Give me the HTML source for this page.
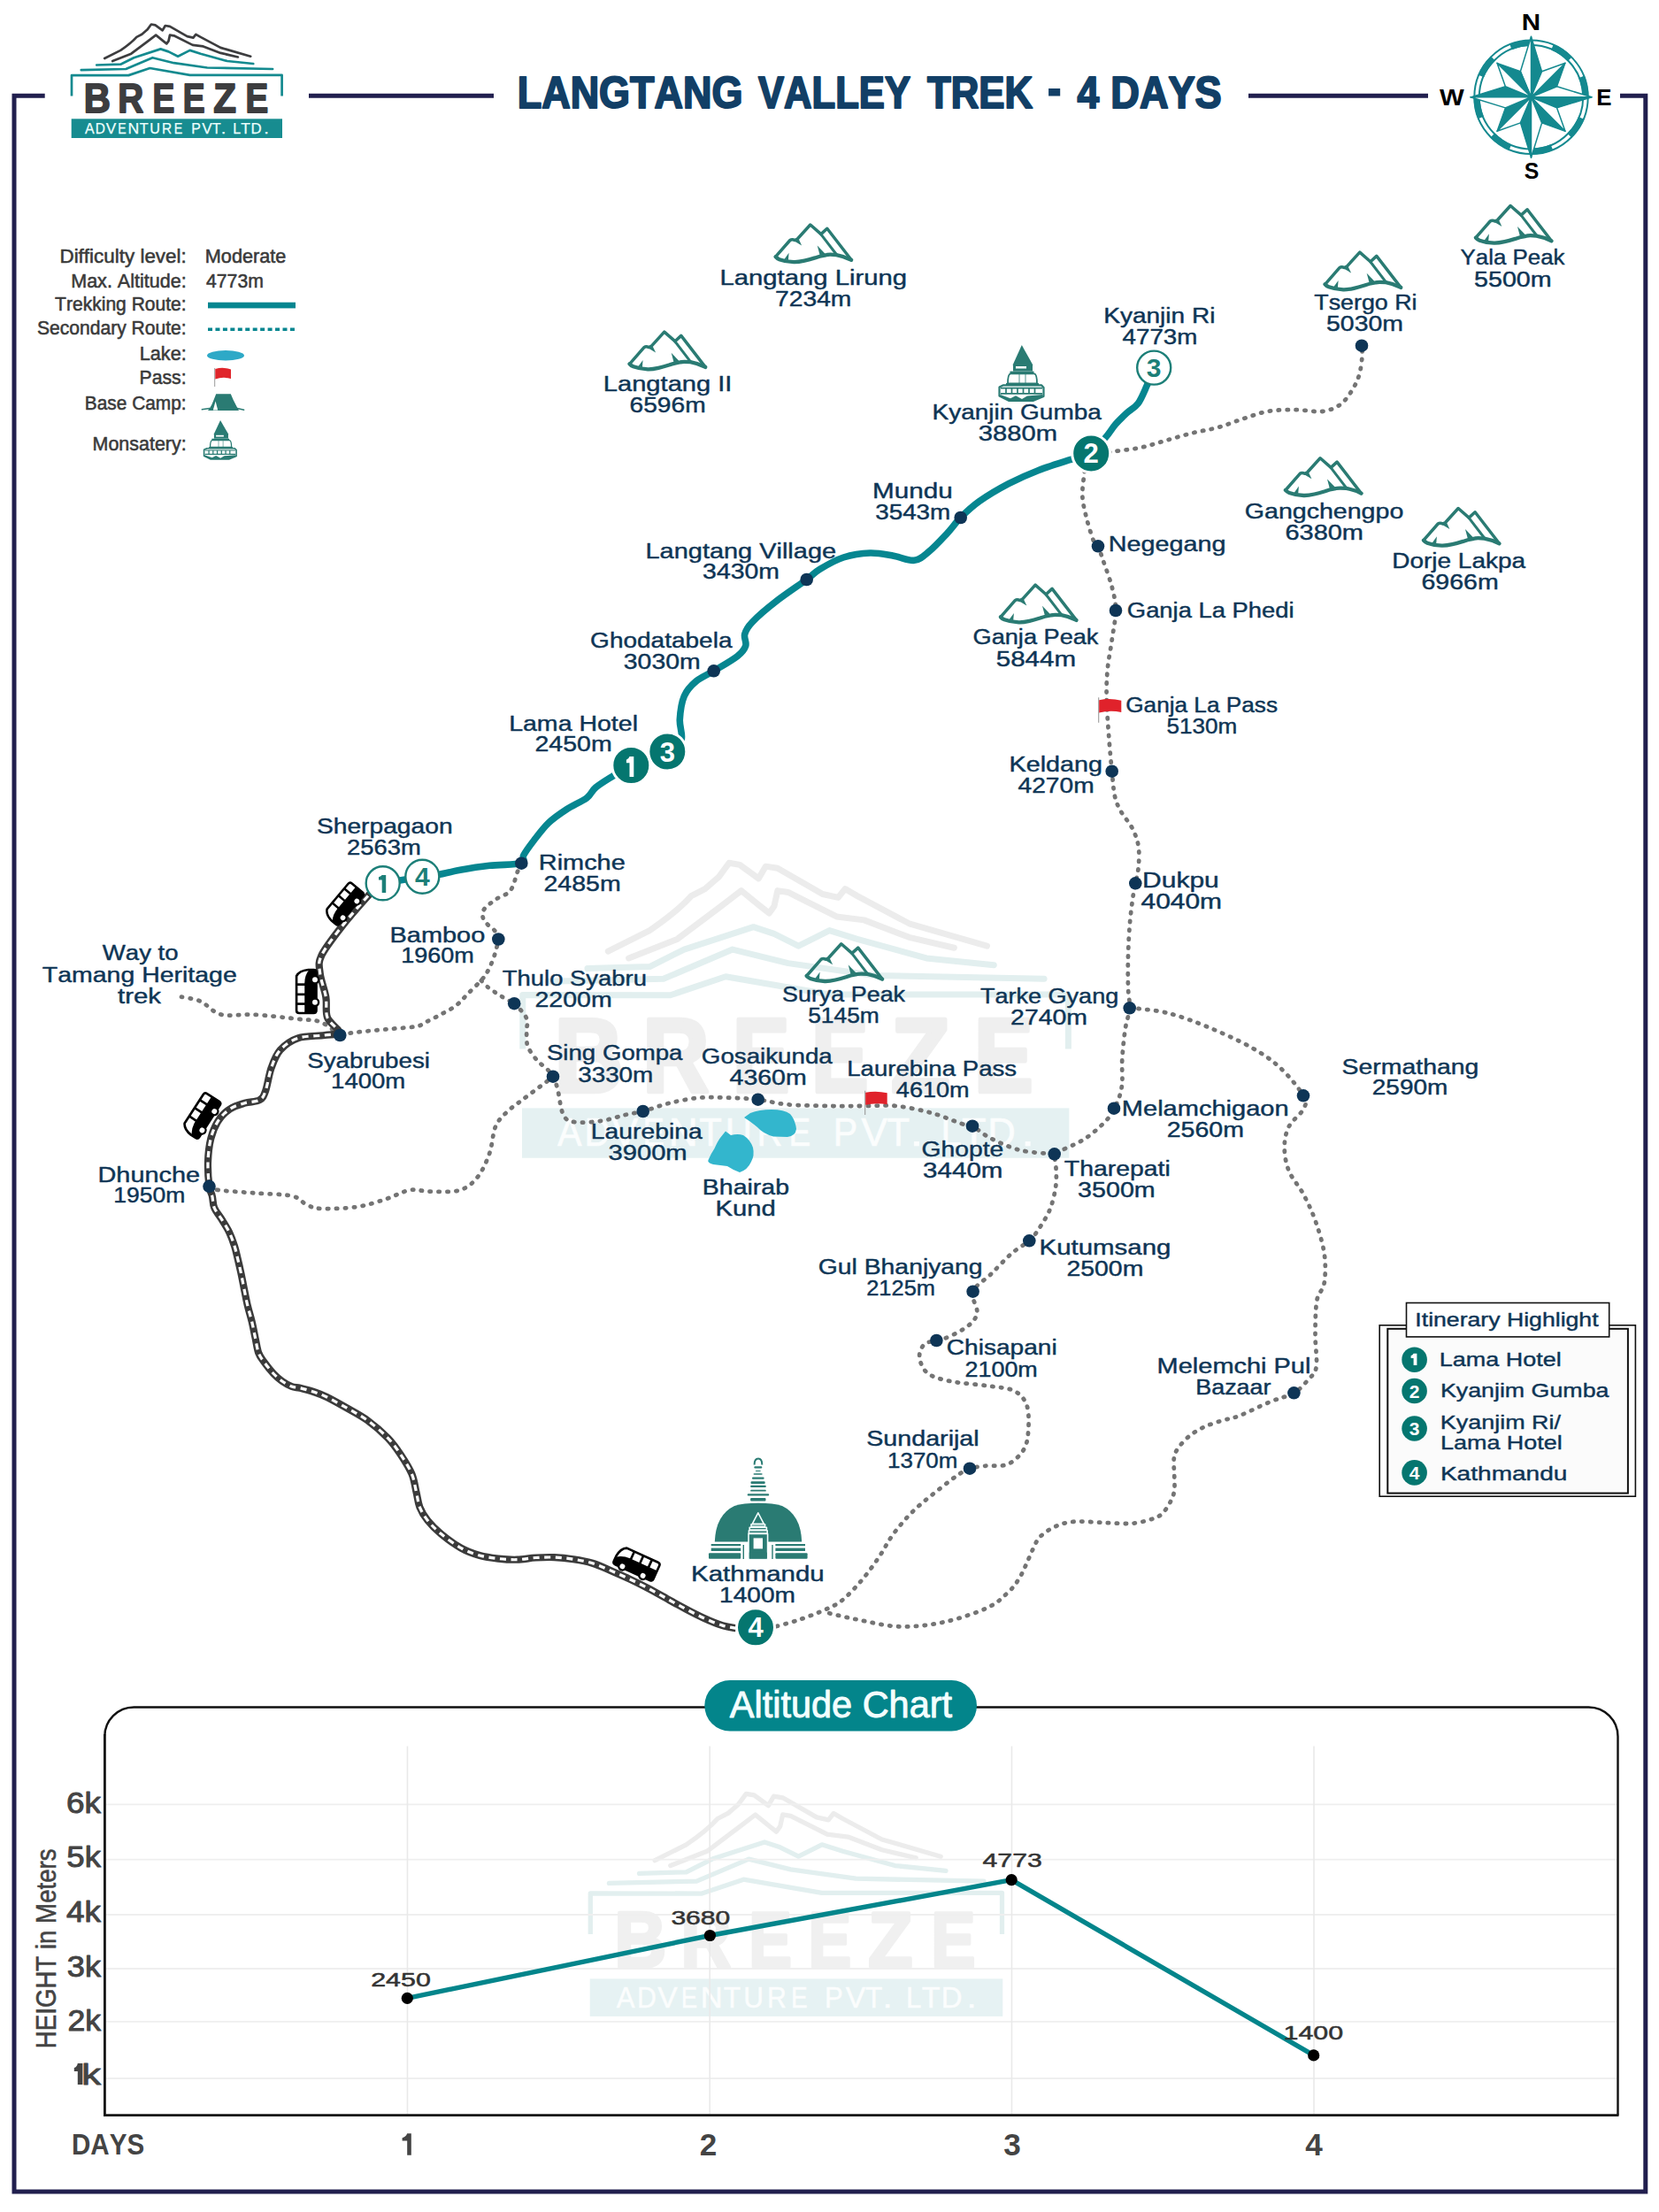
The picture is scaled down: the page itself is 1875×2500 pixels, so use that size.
<!DOCTYPE html><html><head><meta charset="utf-8"><title>Langtang Valley Trek - 4 Days</title><style>html,body{margin:0;padding:0;background:#fff;}svg{display:block;}::-webkit-scrollbar{display:none;}text{font-family:"Liberation Sans",sans-serif;font-kerning:none;}</style></head><body>
<svg width="1875" height="2500" viewBox="0 0 1875 2500">
<rect width="1875" height="2500" fill="#ffffff"/>
<defs>
<g id="mtn" fill="none" stroke="#2a7b73" stroke-linejoin="round" stroke-linecap="round"><path stroke-width="3.5" d="M0.9 38 L17.2 19.3 Q19.6 17.6 22.6 19.3 L25.6 17.8 L40.1 1.8 L52.2 12.4 L59.1 6.1 L86.5 41.6"/><path stroke-width="4.3" d="M86.5 41.6 Q79 37.6 69.6 35.9 Q60 35 57.6 36.2 Q50 37.5 45.5 39.2 Q38 41.5 33.5 42.5 Q26 44.2 21.4 44 Q12 43.6 5.1 41 Q2.5 40 0.9 38"/><path stroke-width="3" d="M52.2 12.7 L69.6 35.3"/></g><g id="mtnf" fill="#2a7b73"><path d="M21.2 19.8 L26.8 17.6 L30.4 25.2 Z"/><path d="M48 25.4 L51.2 37.4 L57.8 35.6 Z"/><path d="M15.9 33.6 L10.4 41.2 L15.2 41.8 Z"/></g>
<g id="bus"><path d="M-17 -11 L21 -11 Q24 -11 24 -8 L24 8 Q24 11 21 11 L-21 11 Q-24 11 -24 8 L-24 2 Q-23 -8 -17 -11 Z" fill="#fff" stroke="#000" stroke-width="2.6" stroke-linejoin="round"/><path d="M-24 3 Q-18 -2 -9 -2 L24 -2 L24 8 Q24 11 21 11 L-21 11 Q-24 11 -24 8 Z" fill="#000"/><rect x="-9" y="-11" width="2.6" height="10" fill="#000"/><rect x="2" y="-11" width="2.6" height="10" fill="#000"/><rect x="12.5" y="-11" width="2.6" height="10" fill="#000"/><circle cx="-13" cy="9.5" r="5.2" fill="#000"/><circle cx="-13" cy="9.5" r="2.9" fill="#fff"/><circle cx="12" cy="9.5" r="5.2" fill="#000"/><circle cx="12" cy="9.5" r="2.9" fill="#fff"/></g>
<g id="monastery"><path d="M26.8 0 L16.5 22.8 L39.5 22.8 Z" fill="#2a7b73"/><rect x="17" y="22" width="22" height="7.5" fill="#2a7b73"/><rect x="20" y="24" width="12" height="2.5" fill="#fff"/><path d="M13.5 29.6 L40.5 29.6 L40.5 32.5 L13.5 32.5 Z" fill="#2a7b73"/><path d="M11 43.5 Q11 33 14 32.3 L41 32.3 Q44 33 44 43.5 Z" fill="#fff" stroke="#2a7b73" stroke-width="1.8"/><rect x="9" y="43" width="37" height="2.6" fill="#2a7b73"/><path d="M1.5 47.5 L6 45.3 L49 45.3 L51.5 48 L51.5 58 L40 62.8 L12 62.8 L1.5 57.5 Z" fill="#fff" stroke="#2a7b73" stroke-width="2.2" stroke-linejoin="round"/><path d="M3 48.6 L50 48.6 M3 54.8 L50 54.8 M9 48 L9 55 M15.5 48 L15.5 55 M22 48 L22 55 M28.5 48 L28.5 55 M35 48 L35 55 M41.5 48 L41.5 55" stroke="#2a7b73" stroke-width="1.7" fill="none"/><path d="M2.5 56 L14 60.2 L20 57.2 L27 61 L33 57.6 L50.5 56 L50.5 58 L40 62.8 L12 62.8 L2 58 Z" fill="#2a7b73"/><path d="M24 33 L24 43 M31 33 L31 43" stroke="#2a7b73" stroke-width="0.8"/></g>
</defs>
<g transform="translate(380.58 903.89) scale(2.595)">
<g fill="none" stroke-linecap="round" stroke-linejoin="round" stroke-width="2.7"><path stroke="#ececec" d="M118.2 66 L136.3 56.9 Q148 49 154.4 41.9 L160.4 38.8 L166.4 33.6 L170.9 27.5 L175.5 28.3 L183.7 34.3 L186.8 29 L192 29.8 L211.6 41.1 L218.4 42.6 L221.4 38.8 L226.7 41.9 L249.3 53.9 L283.2 63.7"/><path stroke="#ececec" d="M127.2 69 L148.3 60.7 L166.4 47.1 L176.2 39.6 L184.5 46.4 L188.3 49.4 L190.5 46.4 L192 39.6 L196.6 40.3 L217.7 50.9 L229.7 52.4 L249.3 59.9 L268.9 64.5"/><path stroke="#e2efef" d="M109.2 73.5 L136.3 72.7 L151.3 65.2 L181.5 55.4 L190.5 58.4 L201.1 63.7 L214.6 56.9 L226.7 60.7 L256.8 69 L286.2 72"/><path stroke="#e2efef" d="M91.8 79.1 L142.3 78 L172.4 65.2 L196.6 71.2 L234.2 76.5 L308.1 78"/><path stroke="#e2efef" stroke-linecap="butt" d="M81 108.5 L81 85 L145.3 85.1 L169.4 77 L214.6 84.8 L318.6 84.8 L318.6 108.5"/></g><text x="94.80" y="127.30" font-family="Liberation Sans" font-weight="bold" font-size="45.64" fill="#efefef" stroke="#efefef" stroke-width="1.80" stroke-linejoin="round" textLength="30.20" lengthAdjust="spacingAndGlyphs" >B</text><text x="133.21" y="127.30" font-family="Liberation Sans" font-weight="bold" font-size="45.64" fill="#efefef" stroke="#efefef" stroke-width="1.80" stroke-linejoin="round" textLength="29.01" lengthAdjust="spacingAndGlyphs" >R</text><text x="172.41" y="127.30" font-family="Liberation Sans" font-weight="bold" font-size="45.64" fill="#efefef" stroke="#efefef" stroke-width="1.80" stroke-linejoin="round" textLength="24.85" lengthAdjust="spacingAndGlyphs" >E</text><text x="206.71" y="127.30" font-family="Liberation Sans" font-weight="bold" font-size="45.64" fill="#efefef" stroke="#efefef" stroke-width="1.80" stroke-linejoin="round" textLength="24.85" lengthAdjust="spacingAndGlyphs" >E</text><text x="241.35" y="127.30" font-family="Liberation Sans" font-weight="bold" font-size="45.64" fill="#efefef" stroke="#efefef" stroke-width="1.80" stroke-linejoin="round" textLength="25.66" lengthAdjust="spacingAndGlyphs" >Z</text><text x="277.62" y="127.30" font-family="Liberation Sans" font-weight="bold" font-size="45.64" fill="#efefef" stroke="#efefef" stroke-width="1.80" stroke-linejoin="round" textLength="25.68" lengthAdjust="spacingAndGlyphs" >E</text><rect x="80.7" y="134.3" width="238.3" height="21.7" fill="#e5f1f2"/><text x="96.09" y="150.90" font-family="Liberation Sans" font-weight="normal" font-size="16.97" fill="#fbfdfd" stroke="#fbfdfd" stroke-width="0.25" stroke-linejoin="round" textLength="10.61" lengthAdjust="spacingAndGlyphs" >A</text><text x="107.86" y="150.90" font-family="Liberation Sans" font-weight="normal" font-size="16.97" fill="#fbfdfd" stroke="#fbfdfd" stroke-width="0.25" stroke-linejoin="round" textLength="11.16" lengthAdjust="spacingAndGlyphs" >D</text><text x="119.85" y="150.90" font-family="Liberation Sans" font-weight="normal" font-size="16.97" fill="#fbfdfd" stroke="#fbfdfd" stroke-width="0.25" stroke-linejoin="round" textLength="11.50" lengthAdjust="spacingAndGlyphs" >V</text><text x="133.27" y="150.90" font-family="Liberation Sans" font-weight="normal" font-size="16.97" fill="#fbfdfd" stroke="#fbfdfd" stroke-width="0.25" stroke-linejoin="round" textLength="9.41" lengthAdjust="spacingAndGlyphs" >E</text><text x="144.58" y="150.90" font-family="Liberation Sans" font-weight="normal" font-size="16.97" fill="#fbfdfd" stroke="#fbfdfd" stroke-width="0.25" stroke-linejoin="round" textLength="12.73" lengthAdjust="spacingAndGlyphs" >N</text><text x="157.86" y="150.90" font-family="Liberation Sans" font-weight="normal" font-size="16.97" fill="#fbfdfd" stroke="#fbfdfd" stroke-width="0.25" stroke-linejoin="round" textLength="9.88" lengthAdjust="spacingAndGlyphs" >T</text><text x="169.28" y="150.90" font-family="Liberation Sans" font-weight="normal" font-size="16.97" fill="#fbfdfd" stroke="#fbfdfd" stroke-width="0.25" stroke-linejoin="round" textLength="11.64" lengthAdjust="spacingAndGlyphs" >U</text><text x="183.06" y="150.90" font-family="Liberation Sans" font-weight="normal" font-size="16.97" fill="#fbfdfd" stroke="#fbfdfd" stroke-width="0.25" stroke-linejoin="round" textLength="11.13" lengthAdjust="spacingAndGlyphs" >R</text><text x="196.85" y="150.90" font-family="Liberation Sans" font-weight="normal" font-size="16.97" fill="#fbfdfd" stroke="#fbfdfd" stroke-width="0.25" stroke-linejoin="round" textLength="9.54" lengthAdjust="spacingAndGlyphs" >E</text><text x="216.22" y="150.90" font-family="Liberation Sans" font-weight="normal" font-size="16.97" fill="#fbfdfd" stroke="#fbfdfd" stroke-width="0.25" stroke-linejoin="round" textLength="10.59" lengthAdjust="spacingAndGlyphs" >P</text><text x="228.35" y="150.90" font-family="Liberation Sans" font-weight="normal" font-size="16.97" fill="#fbfdfd" stroke="#fbfdfd" stroke-width="0.25" stroke-linejoin="round" textLength="11.50" lengthAdjust="spacingAndGlyphs" >V</text><text x="239.66" y="150.90" font-family="Liberation Sans" font-weight="normal" font-size="16.97" fill="#fbfdfd" stroke="#fbfdfd" stroke-width="0.25" stroke-linejoin="round" textLength="9.88" lengthAdjust="spacingAndGlyphs" >T</text><text x="249.66" y="150.90" font-family="Liberation Sans" font-weight="normal" font-size="16.97" fill="#fbfdfd" stroke="#fbfdfd" stroke-width="0.25" stroke-linejoin="round" textLength="5.69" lengthAdjust="spacingAndGlyphs" >.</text><text x="263.21" y="150.90" font-family="Liberation Sans" font-weight="normal" font-size="16.97" fill="#fbfdfd" stroke="#fbfdfd" stroke-width="0.25" stroke-linejoin="round" textLength="8.89" lengthAdjust="spacingAndGlyphs" >L</text><text x="272.23" y="150.90" font-family="Liberation Sans" font-weight="normal" font-size="16.97" fill="#fbfdfd" stroke="#fbfdfd" stroke-width="0.25" stroke-linejoin="round" textLength="10.64" lengthAdjust="spacingAndGlyphs" >T</text><text x="283.45" y="150.90" font-family="Liberation Sans" font-weight="normal" font-size="16.97" fill="#fbfdfd" stroke="#fbfdfd" stroke-width="0.25" stroke-linejoin="round" textLength="12.13" lengthAdjust="spacingAndGlyphs" >D</text><text x="298.15" y="150.90" font-family="Liberation Sans" font-weight="normal" font-size="16.97" fill="#fbfdfd" stroke="#fbfdfd" stroke-width="0.25" stroke-linejoin="round" textLength="5.69" lengthAdjust="spacingAndGlyphs" >.</text>
</g>
<g transform="translate(508.69 1973.44) scale(1.958)">
<g fill="none" stroke-linecap="round" stroke-linejoin="round" stroke-width="2.7"><path stroke="#ececec" d="M118.2 66 L136.3 56.9 Q148 49 154.4 41.9 L160.4 38.8 L166.4 33.6 L170.9 27.5 L175.5 28.3 L183.7 34.3 L186.8 29 L192 29.8 L211.6 41.1 L218.4 42.6 L221.4 38.8 L226.7 41.9 L249.3 53.9 L283.2 63.7"/><path stroke="#ececec" d="M127.2 69 L148.3 60.7 L166.4 47.1 L176.2 39.6 L184.5 46.4 L188.3 49.4 L190.5 46.4 L192 39.6 L196.6 40.3 L217.7 50.9 L229.7 52.4 L249.3 59.9 L268.9 64.5"/><path stroke="#e2efef" d="M109.2 73.5 L136.3 72.7 L151.3 65.2 L181.5 55.4 L190.5 58.4 L201.1 63.7 L214.6 56.9 L226.7 60.7 L256.8 69 L286.2 72"/><path stroke="#e2efef" d="M91.8 79.1 L142.3 78 L172.4 65.2 L196.6 71.2 L234.2 76.5 L308.1 78"/><path stroke="#e2efef" stroke-linecap="butt" d="M81 108.5 L81 85 L145.3 85.1 L169.4 77 L214.6 84.8 L318.6 84.8 L318.6 108.5"/></g><text x="94.80" y="127.30" font-family="Liberation Sans" font-weight="bold" font-size="45.64" fill="#f0f0f0" stroke="#f0f0f0" stroke-width="1.80" stroke-linejoin="round" textLength="30.20" lengthAdjust="spacingAndGlyphs" >B</text><text x="133.21" y="127.30" font-family="Liberation Sans" font-weight="bold" font-size="45.64" fill="#f0f0f0" stroke="#f0f0f0" stroke-width="1.80" stroke-linejoin="round" textLength="29.01" lengthAdjust="spacingAndGlyphs" >R</text><text x="172.41" y="127.30" font-family="Liberation Sans" font-weight="bold" font-size="45.64" fill="#f0f0f0" stroke="#f0f0f0" stroke-width="1.80" stroke-linejoin="round" textLength="24.85" lengthAdjust="spacingAndGlyphs" >E</text><text x="206.71" y="127.30" font-family="Liberation Sans" font-weight="bold" font-size="45.64" fill="#f0f0f0" stroke="#f0f0f0" stroke-width="1.80" stroke-linejoin="round" textLength="24.85" lengthAdjust="spacingAndGlyphs" >E</text><text x="241.35" y="127.30" font-family="Liberation Sans" font-weight="bold" font-size="45.64" fill="#f0f0f0" stroke="#f0f0f0" stroke-width="1.80" stroke-linejoin="round" textLength="25.66" lengthAdjust="spacingAndGlyphs" >Z</text><text x="277.62" y="127.30" font-family="Liberation Sans" font-weight="bold" font-size="45.64" fill="#f0f0f0" stroke="#f0f0f0" stroke-width="1.80" stroke-linejoin="round" textLength="25.68" lengthAdjust="spacingAndGlyphs" >E</text><rect x="80.7" y="134.3" width="238.3" height="21.7" fill="#e6f2f3"/><text x="96.09" y="150.90" font-family="Liberation Sans" font-weight="normal" font-size="16.97" fill="#fbfdfd" stroke="#fbfdfd" stroke-width="0.25" stroke-linejoin="round" textLength="10.61" lengthAdjust="spacingAndGlyphs" >A</text><text x="107.86" y="150.90" font-family="Liberation Sans" font-weight="normal" font-size="16.97" fill="#fbfdfd" stroke="#fbfdfd" stroke-width="0.25" stroke-linejoin="round" textLength="11.16" lengthAdjust="spacingAndGlyphs" >D</text><text x="119.85" y="150.90" font-family="Liberation Sans" font-weight="normal" font-size="16.97" fill="#fbfdfd" stroke="#fbfdfd" stroke-width="0.25" stroke-linejoin="round" textLength="11.50" lengthAdjust="spacingAndGlyphs" >V</text><text x="133.27" y="150.90" font-family="Liberation Sans" font-weight="normal" font-size="16.97" fill="#fbfdfd" stroke="#fbfdfd" stroke-width="0.25" stroke-linejoin="round" textLength="9.41" lengthAdjust="spacingAndGlyphs" >E</text><text x="144.58" y="150.90" font-family="Liberation Sans" font-weight="normal" font-size="16.97" fill="#fbfdfd" stroke="#fbfdfd" stroke-width="0.25" stroke-linejoin="round" textLength="12.73" lengthAdjust="spacingAndGlyphs" >N</text><text x="157.86" y="150.90" font-family="Liberation Sans" font-weight="normal" font-size="16.97" fill="#fbfdfd" stroke="#fbfdfd" stroke-width="0.25" stroke-linejoin="round" textLength="9.88" lengthAdjust="spacingAndGlyphs" >T</text><text x="169.28" y="150.90" font-family="Liberation Sans" font-weight="normal" font-size="16.97" fill="#fbfdfd" stroke="#fbfdfd" stroke-width="0.25" stroke-linejoin="round" textLength="11.64" lengthAdjust="spacingAndGlyphs" >U</text><text x="183.06" y="150.90" font-family="Liberation Sans" font-weight="normal" font-size="16.97" fill="#fbfdfd" stroke="#fbfdfd" stroke-width="0.25" stroke-linejoin="round" textLength="11.13" lengthAdjust="spacingAndGlyphs" >R</text><text x="196.85" y="150.90" font-family="Liberation Sans" font-weight="normal" font-size="16.97" fill="#fbfdfd" stroke="#fbfdfd" stroke-width="0.25" stroke-linejoin="round" textLength="9.54" lengthAdjust="spacingAndGlyphs" >E</text><text x="216.22" y="150.90" font-family="Liberation Sans" font-weight="normal" font-size="16.97" fill="#fbfdfd" stroke="#fbfdfd" stroke-width="0.25" stroke-linejoin="round" textLength="10.59" lengthAdjust="spacingAndGlyphs" >P</text><text x="228.35" y="150.90" font-family="Liberation Sans" font-weight="normal" font-size="16.97" fill="#fbfdfd" stroke="#fbfdfd" stroke-width="0.25" stroke-linejoin="round" textLength="11.50" lengthAdjust="spacingAndGlyphs" >V</text><text x="239.66" y="150.90" font-family="Liberation Sans" font-weight="normal" font-size="16.97" fill="#fbfdfd" stroke="#fbfdfd" stroke-width="0.25" stroke-linejoin="round" textLength="9.88" lengthAdjust="spacingAndGlyphs" >T</text><text x="249.66" y="150.90" font-family="Liberation Sans" font-weight="normal" font-size="16.97" fill="#fbfdfd" stroke="#fbfdfd" stroke-width="0.25" stroke-linejoin="round" textLength="5.69" lengthAdjust="spacingAndGlyphs" >.</text><text x="263.21" y="150.90" font-family="Liberation Sans" font-weight="normal" font-size="16.97" fill="#fbfdfd" stroke="#fbfdfd" stroke-width="0.25" stroke-linejoin="round" textLength="8.89" lengthAdjust="spacingAndGlyphs" >L</text><text x="272.23" y="150.90" font-family="Liberation Sans" font-weight="normal" font-size="16.97" fill="#fbfdfd" stroke="#fbfdfd" stroke-width="0.25" stroke-linejoin="round" textLength="10.64" lengthAdjust="spacingAndGlyphs" >T</text><text x="283.45" y="150.90" font-family="Liberation Sans" font-weight="normal" font-size="16.97" fill="#fbfdfd" stroke="#fbfdfd" stroke-width="0.25" stroke-linejoin="round" textLength="12.13" lengthAdjust="spacingAndGlyphs" >D</text><text x="298.15" y="150.90" font-family="Liberation Sans" font-weight="normal" font-size="16.97" fill="#fbfdfd" stroke="#fbfdfd" stroke-width="0.25" stroke-linejoin="round" textLength="5.69" lengthAdjust="spacingAndGlyphs" >.</text>
</g>
<g fill="none" stroke="#211f4e" stroke-width="5" stroke-linecap="butt">
<path d="M50.7 108.2 L16 108.2 L16 2477 L1859.8 2477 L1859.8 108.2 L1831 108.2"/>
<path d="M349 108.2 L558 108.2"/><path d="M1411 108.2 L1614 108.2"/>
</g>
<g fill="none" stroke-linecap="round" stroke-linejoin="round" stroke-width="2.7"><path stroke="#3d3d3f" d="M118.2 66 L136.3 56.9 Q148 49 154.4 41.9 L160.4 38.8 L166.4 33.6 L170.9 27.5 L175.5 28.3 L183.7 34.3 L186.8 29 L192 29.8 L211.6 41.1 L218.4 42.6 L221.4 38.8 L226.7 41.9 L249.3 53.9 L283.2 63.7"/><path stroke="#3d3d3f" d="M127.2 69 L148.3 60.7 L166.4 47.1 L176.2 39.6 L184.5 46.4 L188.3 49.4 L190.5 46.4 L192 39.6 L196.6 40.3 L217.7 50.9 L229.7 52.4 L249.3 59.9 L268.9 64.5"/><path stroke="#148a8f" d="M109.2 73.5 L136.3 72.7 L151.3 65.2 L181.5 55.4 L190.5 58.4 L201.1 63.7 L214.6 56.9 L226.7 60.7 L256.8 69 L286.2 72"/><path stroke="#148a8f" d="M91.8 79.1 L142.3 78 L172.4 65.2 L196.6 71.2 L234.2 76.5 L308.1 78"/><path stroke="#148a8f" stroke-linecap="butt" d="M81 108.5 L81 85 L145.3 85.1 L169.4 77 L214.6 84.8 L318.6 84.8 L318.6 108.5"/></g><text x="94.80" y="127.30" font-family="Liberation Sans" font-weight="bold" font-size="45.64" fill="#3d3d3f" stroke="#3d3d3f" stroke-width="1.80" stroke-linejoin="round" textLength="30.20" lengthAdjust="spacingAndGlyphs" >B</text><text x="133.21" y="127.30" font-family="Liberation Sans" font-weight="bold" font-size="45.64" fill="#3d3d3f" stroke="#3d3d3f" stroke-width="1.80" stroke-linejoin="round" textLength="29.01" lengthAdjust="spacingAndGlyphs" >R</text><text x="172.41" y="127.30" font-family="Liberation Sans" font-weight="bold" font-size="45.64" fill="#3d3d3f" stroke="#3d3d3f" stroke-width="1.80" stroke-linejoin="round" textLength="24.85" lengthAdjust="spacingAndGlyphs" >E</text><text x="206.71" y="127.30" font-family="Liberation Sans" font-weight="bold" font-size="45.64" fill="#3d3d3f" stroke="#3d3d3f" stroke-width="1.80" stroke-linejoin="round" textLength="24.85" lengthAdjust="spacingAndGlyphs" >E</text><text x="241.35" y="127.30" font-family="Liberation Sans" font-weight="bold" font-size="45.64" fill="#3d3d3f" stroke="#3d3d3f" stroke-width="1.80" stroke-linejoin="round" textLength="25.66" lengthAdjust="spacingAndGlyphs" >Z</text><text x="277.62" y="127.30" font-family="Liberation Sans" font-weight="bold" font-size="45.64" fill="#3d3d3f" stroke="#3d3d3f" stroke-width="1.80" stroke-linejoin="round" textLength="25.68" lengthAdjust="spacingAndGlyphs" >E</text><rect x="80.7" y="134.3" width="238.3" height="21.7" fill="#178c90"/><text x="96.09" y="150.90" font-family="Liberation Sans" font-weight="normal" font-size="16.97" fill="#eefffd" stroke="#eefffd" stroke-width="0.25" stroke-linejoin="round" textLength="10.61" lengthAdjust="spacingAndGlyphs" >A</text><text x="107.86" y="150.90" font-family="Liberation Sans" font-weight="normal" font-size="16.97" fill="#eefffd" stroke="#eefffd" stroke-width="0.25" stroke-linejoin="round" textLength="11.16" lengthAdjust="spacingAndGlyphs" >D</text><text x="119.85" y="150.90" font-family="Liberation Sans" font-weight="normal" font-size="16.97" fill="#eefffd" stroke="#eefffd" stroke-width="0.25" stroke-linejoin="round" textLength="11.50" lengthAdjust="spacingAndGlyphs" >V</text><text x="133.27" y="150.90" font-family="Liberation Sans" font-weight="normal" font-size="16.97" fill="#eefffd" stroke="#eefffd" stroke-width="0.25" stroke-linejoin="round" textLength="9.41" lengthAdjust="spacingAndGlyphs" >E</text><text x="144.58" y="150.90" font-family="Liberation Sans" font-weight="normal" font-size="16.97" fill="#eefffd" stroke="#eefffd" stroke-width="0.25" stroke-linejoin="round" textLength="12.73" lengthAdjust="spacingAndGlyphs" >N</text><text x="157.86" y="150.90" font-family="Liberation Sans" font-weight="normal" font-size="16.97" fill="#eefffd" stroke="#eefffd" stroke-width="0.25" stroke-linejoin="round" textLength="9.88" lengthAdjust="spacingAndGlyphs" >T</text><text x="169.28" y="150.90" font-family="Liberation Sans" font-weight="normal" font-size="16.97" fill="#eefffd" stroke="#eefffd" stroke-width="0.25" stroke-linejoin="round" textLength="11.64" lengthAdjust="spacingAndGlyphs" >U</text><text x="183.06" y="150.90" font-family="Liberation Sans" font-weight="normal" font-size="16.97" fill="#eefffd" stroke="#eefffd" stroke-width="0.25" stroke-linejoin="round" textLength="11.13" lengthAdjust="spacingAndGlyphs" >R</text><text x="196.85" y="150.90" font-family="Liberation Sans" font-weight="normal" font-size="16.97" fill="#eefffd" stroke="#eefffd" stroke-width="0.25" stroke-linejoin="round" textLength="9.54" lengthAdjust="spacingAndGlyphs" >E</text><text x="216.22" y="150.90" font-family="Liberation Sans" font-weight="normal" font-size="16.97" fill="#eefffd" stroke="#eefffd" stroke-width="0.25" stroke-linejoin="round" textLength="10.59" lengthAdjust="spacingAndGlyphs" >P</text><text x="228.35" y="150.90" font-family="Liberation Sans" font-weight="normal" font-size="16.97" fill="#eefffd" stroke="#eefffd" stroke-width="0.25" stroke-linejoin="round" textLength="11.50" lengthAdjust="spacingAndGlyphs" >V</text><text x="239.66" y="150.90" font-family="Liberation Sans" font-weight="normal" font-size="16.97" fill="#eefffd" stroke="#eefffd" stroke-width="0.25" stroke-linejoin="round" textLength="9.88" lengthAdjust="spacingAndGlyphs" >T</text><text x="249.66" y="150.90" font-family="Liberation Sans" font-weight="normal" font-size="16.97" fill="#eefffd" stroke="#eefffd" stroke-width="0.25" stroke-linejoin="round" textLength="5.69" lengthAdjust="spacingAndGlyphs" >.</text><text x="263.21" y="150.90" font-family="Liberation Sans" font-weight="normal" font-size="16.97" fill="#eefffd" stroke="#eefffd" stroke-width="0.25" stroke-linejoin="round" textLength="8.89" lengthAdjust="spacingAndGlyphs" >L</text><text x="272.23" y="150.90" font-family="Liberation Sans" font-weight="normal" font-size="16.97" fill="#eefffd" stroke="#eefffd" stroke-width="0.25" stroke-linejoin="round" textLength="10.64" lengthAdjust="spacingAndGlyphs" >T</text><text x="283.45" y="150.90" font-family="Liberation Sans" font-weight="normal" font-size="16.97" fill="#eefffd" stroke="#eefffd" stroke-width="0.25" stroke-linejoin="round" textLength="12.13" lengthAdjust="spacingAndGlyphs" >D</text><text x="298.15" y="150.90" font-family="Liberation Sans" font-weight="normal" font-size="16.97" fill="#eefffd" stroke="#eefffd" stroke-width="0.25" stroke-linejoin="round" textLength="5.69" lengthAdjust="spacingAndGlyphs" >.</text>
<text x="584.69" y="122.20" font-family="Liberation Sans" font-weight="bold" font-size="49.13" fill="#123f66" stroke="#123f66" stroke-width="2.00" stroke-linejoin="round" textLength="254.80" lengthAdjust="spacingAndGlyphs" >LANGTANG</text>
<text x="857.00" y="122.20" font-family="Liberation Sans" font-weight="bold" font-size="49.13" fill="#123f66" stroke="#123f66" stroke-width="2.00" stroke-linejoin="round" textLength="172.00" lengthAdjust="spacingAndGlyphs" >VALLEY</text>
<text x="1047.91" y="122.20" font-family="Liberation Sans" font-weight="bold" font-size="49.13" fill="#123f66" stroke="#123f66" stroke-width="2.00" stroke-linejoin="round" textLength="119.10" lengthAdjust="spacingAndGlyphs" >TREK</text>
<text x="1217.53" y="122.20" font-family="Liberation Sans" font-weight="bold" font-size="49.13" fill="#123f66" stroke="#123f66" stroke-width="2.00" stroke-linejoin="round" textLength="24.71" lengthAdjust="spacingAndGlyphs" >4</text>
<text x="1255.28" y="122.20" font-family="Liberation Sans" font-weight="bold" font-size="49.13" fill="#123f66" stroke="#123f66" stroke-width="2.00" stroke-linejoin="round" textLength="125.49" lengthAdjust="spacingAndGlyphs" >DAYS</text>
<rect x="1185.1" y="100" width="13.1" height="8.5" fill="#123f66"/>
<g>
<circle cx="1730.5" cy="109.8" r="64.2" fill="none" stroke="#14898f" stroke-width="2.0"/>
<circle cx="1730.5" cy="109.8" r="58.7" fill="none" stroke="#14898f" stroke-width="2.0"/>
<circle cx="1730.5" cy="109.8" r="61.4" fill="none" stroke="#14898f" stroke-width="7" stroke-dasharray="24.112 24.112" stroke-dashoffset="24.112"/>
<path d="M1730.5 109.8 L1730.5 41.3 L1742.6 80.7 Z" fill="#14898f" stroke="#14898f" stroke-width="1.3" stroke-linejoin="round"/>
<path d="M1730.5 109.8 L1730.5 41.3 L1718.4 80.7 Z" fill="#fff" stroke="#14898f" stroke-width="1.5" stroke-linejoin="round"/>
<path d="M1730.5 109.8 L1769.0 71.3 L1759.6 97.7 Z" fill="#14898f" stroke="#14898f" stroke-width="1.3" stroke-linejoin="round"/>
<path d="M1730.5 109.8 L1769.0 71.3 L1742.6 80.7 Z" fill="#fff" stroke="#14898f" stroke-width="1.5" stroke-linejoin="round"/>
<path d="M1730.5 109.8 L1799.0 109.8 L1759.6 121.9 Z" fill="#14898f" stroke="#14898f" stroke-width="1.3" stroke-linejoin="round"/>
<path d="M1730.5 109.8 L1799.0 109.8 L1759.6 97.7 Z" fill="#fff" stroke="#14898f" stroke-width="1.5" stroke-linejoin="round"/>
<path d="M1730.5 109.8 L1769.0 148.3 L1742.6 138.9 Z" fill="#14898f" stroke="#14898f" stroke-width="1.3" stroke-linejoin="round"/>
<path d="M1730.5 109.8 L1769.0 148.3 L1759.6 121.9 Z" fill="#fff" stroke="#14898f" stroke-width="1.5" stroke-linejoin="round"/>
<path d="M1730.5 109.8 L1730.5 178.3 L1718.4 138.9 Z" fill="#14898f" stroke="#14898f" stroke-width="1.3" stroke-linejoin="round"/>
<path d="M1730.5 109.8 L1730.5 178.3 L1742.6 138.9 Z" fill="#fff" stroke="#14898f" stroke-width="1.5" stroke-linejoin="round"/>
<path d="M1730.5 109.8 L1692.0 148.3 L1701.4 121.9 Z" fill="#14898f" stroke="#14898f" stroke-width="1.3" stroke-linejoin="round"/>
<path d="M1730.5 109.8 L1692.0 148.3 L1718.4 138.9 Z" fill="#fff" stroke="#14898f" stroke-width="1.5" stroke-linejoin="round"/>
<path d="M1730.5 109.8 L1662.0 109.8 L1701.4 97.7 Z" fill="#14898f" stroke="#14898f" stroke-width="1.3" stroke-linejoin="round"/>
<path d="M1730.5 109.8 L1662.0 109.8 L1701.4 121.9 Z" fill="#fff" stroke="#14898f" stroke-width="1.5" stroke-linejoin="round"/>
<path d="M1730.5 109.8 L1692.0 71.3 L1718.4 80.7 Z" fill="#14898f" stroke="#14898f" stroke-width="1.3" stroke-linejoin="round"/>
<path d="M1730.5 109.8 L1692.0 71.3 L1701.4 97.7 Z" fill="#fff" stroke="#14898f" stroke-width="1.5" stroke-linejoin="round"/>
</g>
<text x="1719.82" y="34.00" font-family="Liberation Sans" font-weight="bold" font-size="25.29" fill="#000" textLength="21.37" lengthAdjust="spacingAndGlyphs" >N</text>
<text x="1626.97" y="118.50" font-family="Liberation Sans" font-weight="bold" font-size="25.87" fill="#000" textLength="27.76" lengthAdjust="spacingAndGlyphs" >W</text>
<text x="1804.27" y="118.50" font-family="Liberation Sans" font-weight="bold" font-size="25.44" fill="#000" textLength="17.24" lengthAdjust="spacingAndGlyphs" >E</text>
<text x="1722.78" y="202.20" font-family="Liberation Sans" font-weight="bold" font-size="25.29" fill="#000" textLength="16.59" lengthAdjust="spacingAndGlyphs" >S</text>
<text x="67.44" y="297.30" font-family="Liberation Sans" font-weight="normal" font-size="21.98" fill="#3a3a3a" stroke="#3a3a3a" stroke-width="0.55" stroke-linejoin="round" textLength="143.34" lengthAdjust="spacingAndGlyphs" >Difficulty level:</text>
<text x="80.21" y="325.00" font-family="Liberation Sans" font-weight="normal" font-size="21.98" fill="#3a3a3a" stroke="#3a3a3a" stroke-width="0.55" stroke-linejoin="round" textLength="130.48" lengthAdjust="spacingAndGlyphs" >Max. Altitude:</text>
<text x="62.10" y="350.70" font-family="Liberation Sans" font-weight="normal" font-size="21.98" fill="#3a3a3a" stroke="#3a3a3a" stroke-width="0.55" stroke-linejoin="round" textLength="148.54" lengthAdjust="spacingAndGlyphs" >Trekking Route:</text>
<text x="42.02" y="378.30" font-family="Liberation Sans" font-weight="normal" font-size="21.98" fill="#3a3a3a" stroke="#3a3a3a" stroke-width="0.55" stroke-linejoin="round" textLength="168.63" lengthAdjust="spacingAndGlyphs" >Secondary Route:</text>
<text x="157.80" y="407.00" font-family="Liberation Sans" font-weight="normal" font-size="21.98" fill="#3a3a3a" stroke="#3a3a3a" stroke-width="0.55" stroke-linejoin="round" textLength="52.90" lengthAdjust="spacingAndGlyphs" >Lake:</text>
<text x="157.53" y="433.70" font-family="Liberation Sans" font-weight="normal" font-size="21.98" fill="#3a3a3a" stroke="#3a3a3a" stroke-width="0.55" stroke-linejoin="round" textLength="53.13" lengthAdjust="spacingAndGlyphs" >Pass:</text>
<text x="95.86" y="463.00" font-family="Liberation Sans" font-weight="normal" font-size="21.98" fill="#3a3a3a" stroke="#3a3a3a" stroke-width="0.55" stroke-linejoin="round" textLength="114.77" lengthAdjust="spacingAndGlyphs" >Base Camp:</text>
<text x="104.51" y="509.30" font-family="Liberation Sans" font-weight="normal" font-size="21.98" fill="#3a3a3a" stroke="#3a3a3a" stroke-width="0.55" stroke-linejoin="round" textLength="106.17" lengthAdjust="spacingAndGlyphs" >Monsatery:</text>
<text x="231.80" y="297.30" font-family="Liberation Sans" font-weight="normal" font-size="21.98" fill="#3a3a3a" stroke="#3a3a3a" stroke-width="0.55" stroke-linejoin="round" textLength="91.59" lengthAdjust="spacingAndGlyphs" >Moderate</text>
<text x="233.09" y="325.00" font-family="Liberation Sans" font-weight="normal" font-size="21.98" fill="#3a3a3a" stroke="#3a3a3a" stroke-width="0.55" stroke-linejoin="round" textLength="64.73" lengthAdjust="spacingAndGlyphs" >4773m</text>
<rect x="235" y="341.7" width="99" height="6.7" fill="#068690"/>
<path d="M235 372.3 L333 372.3" stroke="#068690" stroke-width="3.6" stroke-dasharray="5 3.45"/>
<ellipse cx="255" cy="401.7" rx="21" ry="5.7" fill="#2ea9c7"/>
<path d="M242.7 416 L242.7 437" stroke="#9a9a9a" stroke-width="1"/>
<path d="M243.3 417 Q252 414.5 261 417.5 L261 428 Q252 425.5 243.3 428.5 Z" fill="#e0252b"/>
<path d="M244.2 445.2 L260.8 445.2 Q263.5 452 266.5 457.5 Q268.5 461.5 270 464 L235 464 Q237.5 461 239.5 457 Q242 451 244.2 445.2 Z" fill="#2a7b73"/>
<path d="M237 461.5 L228.3 462.8 M268 461.5 L275.7 463.2" stroke="#2a7b73" stroke-width="1.4" stroke-linecap="round"/>
<path d="M240.8 463.6 L243.6 453.6 L246.2 463.6 Z" fill="#ffffff"/>
<use href="#monastery" transform="translate(229.5 475) scale(0.73 0.70)"/>
<g fill="none" stroke="#747474" stroke-width="4.8" stroke-linecap="round" stroke-dasharray="1.3 8.6">
<path d="M1253.0 511.0 C1254.0 510.9 1252.9 511.1 1259.0 510.2 C1265.1 509.3 1279.8 507.8 1289.8 505.7 C1299.8 503.6 1309.1 500.2 1318.7 497.5 C1328.3 494.8 1337.9 491.8 1347.6 489.4 C1357.2 487.0 1366.9 485.8 1376.6 483.1 C1386.2 480.4 1395.9 476.2 1405.5 473.1 C1415.1 470.0 1424.5 466.2 1434.4 464.6 C1444.4 463.0 1455.2 463.1 1465.2 463.2 C1475.2 463.3 1486.0 465.9 1494.1 465.0 C1502.2 464.1 1508.6 461.4 1514.0 457.8 C1519.4 454.2 1523.1 448.7 1526.7 443.3 C1530.3 437.9 1533.6 431.5 1535.7 425.2 C1537.8 418.9 1538.7 410.8 1539.3 405.3 C1539.9 399.8 1539.3 394.2 1539.3 392.0"/>
<path d="M1226.0 532.0 C1225.5 536.7 1222.9 550.9 1223.3 560.0 C1223.7 569.1 1226.1 577.8 1228.3 586.7 C1230.5 595.6 1234.6 608.2 1236.7 613.3 C1238.8 618.4 1239.3 614.0 1241.0 617.3 C1242.7 620.6 1244.1 625.6 1246.7 633.3 C1249.3 641.0 1254.3 653.8 1256.7 663.3 C1259.1 672.8 1261.0 680.0 1261.0 690.0 C1261.0 700.0 1258.2 712.2 1256.7 723.3 C1255.2 734.4 1252.7 745.6 1251.7 756.7 C1250.7 767.8 1250.4 777.2 1250.7 790.0 C1251.0 802.8 1252.3 819.7 1253.3 833.3 C1254.3 846.9 1255.6 860.6 1256.7 871.7 C1257.8 882.8 1258.3 892.5 1260.0 900.0 C1261.7 907.5 1263.4 910.6 1266.7 916.7 C1270.0 922.8 1276.7 930.0 1280.0 936.7 C1283.3 943.4 1285.6 949.5 1286.7 956.7 C1287.8 963.9 1287.3 973.1 1286.7 980.0 C1286.1 986.9 1284.4 992.2 1283.3 998.3 C1282.2 1004.4 1281.1 1008.6 1280.0 1016.7 C1278.9 1024.8 1277.5 1036.2 1276.7 1046.7 C1275.9 1057.2 1275.3 1068.3 1275.0 1080.0 C1274.7 1091.7 1274.7 1106.8 1275.0 1116.7 C1275.3 1126.6 1277.2 1131.5 1276.7 1139.3 C1276.2 1147.1 1273.1 1153.7 1271.7 1163.3 C1270.3 1172.9 1268.9 1186.7 1268.3 1196.7 C1267.7 1206.7 1268.8 1216.1 1268.3 1223.3 C1267.8 1230.5 1266.5 1235.1 1265.0 1240.0 C1263.5 1244.9 1261.5 1248.2 1259.0 1252.7 C1256.5 1257.2 1255.4 1261.0 1250.0 1266.7 C1244.6 1272.4 1235.0 1281.2 1226.7 1286.7 C1218.4 1292.2 1205.8 1297.1 1200.0 1300.0 C1194.2 1302.9 1192.8 1301.5 1191.7 1304.3 C1190.6 1307.1 1193.0 1310.8 1193.3 1316.7 C1193.6 1322.7 1194.4 1331.7 1193.3 1340.0 C1192.2 1348.3 1190.0 1358.4 1186.7 1366.7 C1183.4 1375.0 1177.2 1384.1 1173.3 1390.0 C1169.4 1395.9 1168.3 1397.8 1163.3 1402.3 C1158.3 1406.8 1150.5 1410.4 1143.3 1416.7 C1136.1 1423.0 1127.3 1432.8 1120.0 1440.0 C1112.7 1447.2 1102.2 1452.5 1099.6 1459.7 C1097.0 1466.9 1105.0 1476.9 1104.3 1483.2 C1103.6 1489.5 1100.4 1493.1 1095.3 1497.6 C1090.2 1502.1 1079.8 1507.4 1073.6 1510.3 C1067.4 1513.2 1063.2 1513.5 1058.4 1515.0 C1053.6 1516.5 1047.9 1516.2 1044.7 1519.3 C1041.5 1522.4 1038.6 1528.4 1039.2 1533.8 C1039.8 1539.2 1042.6 1547.4 1048.3 1551.9 C1054.0 1556.4 1062.1 1558.6 1073.6 1561.0 C1085.0 1563.4 1105.0 1564.6 1117.0 1566.4 C1129.0 1568.2 1138.7 1568.2 1145.9 1571.8 C1153.1 1575.4 1157.7 1580.6 1160.4 1588.1 C1163.1 1595.6 1162.8 1608.6 1162.2 1617.0 C1161.6 1625.4 1160.7 1632.4 1156.8 1638.7 C1152.9 1645.0 1145.9 1652.0 1138.7 1655.0 C1131.5 1658.0 1120.5 1656.0 1113.4 1656.8 C1106.3 1657.6 1100.8 1658.2 1096.0 1659.7 C1091.2 1661.2 1090.0 1662.1 1084.4 1665.8 C1078.9 1669.5 1071.2 1675.3 1062.7 1682.1 C1054.2 1688.9 1042.1 1698.2 1033.3 1706.7 C1024.5 1715.2 1016.7 1724.4 1010.0 1733.3 C1003.3 1742.2 999.4 1751.1 993.3 1760.0 C987.2 1768.9 980.5 1778.4 973.3 1786.7 C966.1 1795.0 957.8 1804.2 950.0 1810.0 C942.2 1815.8 935.0 1818.1 926.7 1821.7 C918.4 1825.3 908.5 1828.9 900.0 1831.7 C891.5 1834.5 880.0 1837.4 876.0 1838.5"/>
<path d="M1276.7 1139.3 C1278.4 1139.4 1279.5 1139.0 1286.7 1140.0 C1293.9 1141.0 1307.2 1141.7 1320.0 1145.0 C1332.8 1148.3 1347.8 1153.6 1363.3 1160.0 C1378.8 1166.4 1399.4 1175.5 1413.3 1183.3 C1427.2 1191.1 1436.8 1197.5 1446.7 1206.7 C1456.7 1215.9 1468.6 1230.5 1473.0 1238.3 C1477.4 1246.1 1476.0 1247.5 1473.3 1253.3 C1470.6 1259.1 1460.3 1266.1 1456.7 1273.3 C1453.1 1280.5 1451.7 1288.4 1451.7 1296.7 C1451.7 1305.0 1453.1 1314.4 1456.7 1323.3 C1460.3 1332.2 1468.3 1340.5 1473.3 1350.0 C1478.3 1359.5 1482.8 1368.9 1486.7 1380.0 C1490.6 1391.1 1495.0 1405.0 1496.7 1416.7 C1498.4 1428.4 1498.1 1441.1 1496.7 1450.0 C1495.3 1458.9 1490.0 1460.2 1488.3 1470.0 C1486.6 1479.8 1486.6 1496.0 1486.5 1508.5 C1486.4 1521.0 1489.0 1536.3 1487.7 1544.7 C1486.4 1553.1 1482.9 1554.2 1478.7 1559.1 C1474.5 1564.0 1469.6 1570.1 1462.4 1574.3 C1455.2 1578.5 1445.5 1580.1 1435.3 1584.4 C1425.1 1588.7 1409.9 1596.5 1401.0 1600.0 C1392.1 1603.5 1388.7 1603.2 1382.0 1605.3 C1375.3 1607.4 1367.3 1609.7 1361.0 1612.7 C1354.7 1615.7 1348.9 1619.2 1344.0 1623.2 C1339.1 1627.2 1334.3 1632.7 1331.4 1636.9 C1328.5 1641.1 1327.5 1643.4 1326.8 1648.5 C1326.1 1653.6 1327.1 1661.5 1327.2 1667.5 C1327.3 1673.5 1327.9 1679.5 1327.2 1684.4 C1326.5 1689.3 1325.5 1692.4 1323.0 1697.0 C1320.5 1701.6 1316.6 1708.3 1312.4 1711.8 C1308.2 1715.3 1303.7 1716.4 1297.7 1718.1 C1291.7 1719.8 1285.4 1721.5 1276.6 1721.9 C1267.8 1722.3 1255.5 1721.1 1244.9 1720.7 C1234.4 1720.3 1222.1 1719.0 1213.3 1719.8 C1204.5 1720.6 1198.5 1722.6 1192.2 1725.5 C1185.9 1728.4 1179.5 1732.7 1175.3 1737.1 C1171.1 1741.5 1169.5 1746.6 1166.9 1751.9 C1164.3 1757.2 1162.0 1763.5 1159.5 1768.8 C1157.0 1774.1 1155.2 1778.6 1152.1 1783.5 C1149.0 1788.4 1146.9 1792.5 1141.0 1798.0 C1135.1 1803.5 1129.1 1810.8 1116.7 1816.7 C1104.3 1822.6 1083.4 1829.7 1066.7 1833.3 C1050.0 1836.9 1033.4 1838.8 1016.7 1838.3 C1000.0 1837.8 981.2 1832.8 966.7 1830.0 C952.2 1827.2 936.1 1822.9 930.0 1821.5"/>
<path d="M581.2 1134.2 C582.9 1136.0 589.0 1141.8 591.5 1145.0 C594.0 1148.2 595.3 1150.6 595.9 1153.7 C596.5 1156.8 595.4 1160.0 595.3 1163.4 C595.2 1166.8 595.0 1170.9 595.3 1174.3 C595.6 1177.7 595.1 1180.0 597.0 1184.0 C598.9 1188.0 602.9 1193.7 606.7 1198.0 C610.5 1202.3 617.0 1206.9 620.0 1210.0 C623.0 1213.1 623.3 1213.4 625.0 1216.7 C626.7 1220.0 628.0 1222.8 630.0 1230.0 C632.0 1237.2 633.4 1253.6 636.7 1260.0 C640.0 1266.4 642.8 1267.2 650.0 1268.3 C657.2 1269.4 670.5 1268.1 680.0 1266.7 C689.5 1265.3 698.9 1261.8 706.7 1260.0 C714.5 1258.2 718.4 1258.2 726.7 1256.0 C735.0 1253.8 746.2 1249.2 756.7 1246.7 C767.2 1244.2 778.9 1241.7 790.0 1240.7 C801.1 1239.7 812.2 1240.4 823.3 1240.7 C834.4 1241.0 845.6 1241.4 856.7 1242.7 C867.8 1244.0 876.1 1247.1 890.0 1248.3 C903.9 1249.5 925.5 1249.7 940.0 1250.0 C954.5 1250.3 964.5 1250.0 976.7 1250.0 C988.9 1250.0 1000.5 1248.7 1013.3 1250.0 C1026.1 1251.3 1041.1 1254.7 1053.3 1258.0 C1065.5 1261.3 1079.1 1267.5 1086.7 1270.0 C1094.3 1272.5 1093.5 1269.9 1099.0 1272.7 C1104.5 1275.5 1111.0 1282.2 1120.0 1286.7 C1129.0 1291.2 1141.3 1297.1 1153.3 1300.0 C1165.2 1302.9 1185.3 1303.6 1191.7 1304.3"/>
<path d="M589.3 975.7 C588.6 977.2 587.1 979.8 585.0 985.0 C582.9 990.2 580.9 1001.4 576.7 1006.7 C572.5 1012.0 565.0 1013.1 560.0 1016.7 C555.0 1020.3 549.0 1024.8 546.7 1028.3 C544.4 1031.8 545.2 1034.8 546.0 1037.6 C546.8 1040.4 549.2 1042.8 551.4 1045.2 C553.6 1047.6 557.0 1049.0 559.0 1051.7 C561.0 1054.4 563.0 1058.1 563.3 1061.5 C563.6 1064.9 562.0 1068.1 561.0 1072.0 C560.0 1075.9 558.7 1080.7 557.0 1085.0 C555.3 1089.3 553.2 1094.2 551.0 1098.0 C548.8 1101.8 547.4 1104.0 543.8 1108.1 C540.1 1112.2 533.8 1118.1 529.1 1122.8 C524.4 1127.5 520.8 1132.3 515.6 1136.3 C510.5 1140.3 504.2 1143.3 498.2 1146.6 C492.2 1149.9 484.5 1153.6 479.8 1155.9 C475.1 1158.2 477.2 1159.0 470.0 1160.2 C462.8 1161.4 448.4 1162.2 436.7 1163.3 C425.0 1164.4 408.7 1165.9 400.0 1167.0 C391.3 1168.1 386.9 1169.5 384.3 1170.0"/>
<path d="M543.8 1108.1 C545.1 1109.4 548.9 1113.5 551.4 1115.7 C553.9 1117.9 556.3 1119.3 559.0 1121.1 C561.7 1122.9 563.9 1124.4 567.6 1126.6 C571.3 1128.8 578.9 1132.9 581.2 1134.2"/>
<path d="M205.0 1126.7 C208.6 1127.5 219.2 1128.4 226.7 1131.7 C234.2 1135.0 240.0 1144.2 250.0 1146.7 C260.0 1149.2 272.2 1145.9 286.7 1146.7 C301.1 1147.5 324.1 1150.3 336.7 1151.7 C349.2 1153.1 354.1 1152.0 362.0 1155.0 C369.9 1158.0 380.6 1167.5 384.3 1170.0"/>
<path d="M236.5 1340.8 C238.2 1341.5 238.3 1343.8 246.7 1345.0 C255.1 1346.2 272.8 1347.2 286.7 1348.3 C300.6 1349.4 320.0 1349.5 330.0 1351.7 C340.0 1353.9 341.1 1359.3 346.7 1361.7 C352.2 1364.1 353.9 1365.6 363.3 1366.0 C372.7 1366.4 391.1 1365.8 403.3 1364.0 C415.5 1362.2 426.7 1358.2 436.7 1355.0 C446.7 1351.8 455.0 1346.4 463.3 1345.0 C471.6 1343.6 477.2 1346.7 486.7 1346.7 C496.1 1346.7 511.1 1347.8 520.0 1345.0 C528.9 1342.2 534.5 1337.0 540.0 1330.0 C545.5 1323.0 550.0 1312.8 553.3 1303.3 C556.6 1293.8 556.7 1281.1 560.0 1273.3 C563.3 1265.5 568.0 1261.7 573.0 1256.7 C578.0 1251.7 582.7 1248.9 590.0 1243.3 C597.3 1237.7 610.9 1227.7 616.7 1223.3 C622.5 1218.9 623.6 1217.8 625.0 1216.7"/>
</g>
<path d="M425.0 1004.0 C423.6 1005.3 423.1 1004.6 416.7 1011.7 C410.3 1018.8 395.6 1035.3 386.7 1046.7 C377.8 1058.1 367.5 1071.1 363.3 1080.0 C359.1 1088.9 360.9 1092.2 361.7 1100.0 C362.5 1107.8 366.9 1118.4 368.3 1126.7 C369.7 1135.0 367.5 1143.3 370.0 1150.0 C372.5 1156.7 383.9 1163.4 383.3 1166.7 C382.8 1170.0 374.5 1168.9 366.7 1170.0 C358.9 1171.1 345.0 1170.5 336.7 1173.3 C328.4 1176.1 321.7 1181.1 316.7 1186.7 C311.7 1192.3 309.5 1198.9 306.7 1206.7 C303.9 1214.5 302.2 1227.2 300.0 1233.3 C297.8 1239.4 297.2 1241.1 293.3 1243.3 C289.4 1245.5 282.2 1245.0 276.7 1246.7 C271.1 1248.4 265.0 1250.0 260.0 1253.3 C255.0 1256.6 250.3 1261.1 246.7 1266.7 C243.1 1272.3 240.2 1278.9 238.3 1286.7 C236.4 1294.5 235.3 1304.3 235.0 1313.3 C234.7 1322.3 235.7 1334.4 236.5 1340.8 C237.3 1347.2 238.9 1347.7 239.8 1351.7 C240.8 1355.7 240.4 1360.6 242.2 1365.0 C244.0 1369.4 247.8 1373.6 250.6 1378.2 C253.4 1382.8 256.7 1387.7 259.1 1392.7 C261.5 1397.7 263.5 1403.4 265.1 1408.4 C266.7 1413.4 267.5 1417.8 268.7 1422.8 C269.9 1427.8 271.1 1432.9 272.3 1438.5 C273.5 1444.1 274.7 1450.6 275.9 1456.6 C277.1 1462.6 278.2 1468.6 279.6 1474.7 C281.0 1480.8 283.0 1486.8 284.5 1493.0 C286.0 1499.2 287.2 1506.0 288.5 1512.0 C289.8 1518.0 290.5 1524.3 292.2 1529.0 C293.9 1533.7 296.1 1536.0 298.9 1539.9 C301.7 1543.8 305.8 1549.0 309.1 1552.5 C312.4 1556.0 315.4 1558.6 318.8 1561.0 C322.2 1563.4 326.2 1565.7 329.6 1567.0 C333.0 1568.3 335.1 1567.8 339.2 1568.8 C343.3 1569.8 349.3 1571.3 354.3 1573.0 C359.3 1574.7 362.9 1575.8 369.4 1579.0 C375.8 1582.2 385.3 1587.5 393.0 1591.9 C400.7 1596.3 408.1 1600.0 415.6 1605.5 C423.1 1611.0 431.9 1618.6 438.2 1625.1 C444.5 1631.6 448.8 1637.9 453.3 1644.7 C457.8 1651.5 462.5 1658.8 465.4 1665.8 C468.3 1672.8 469.1 1680.6 470.6 1686.9 C472.1 1693.2 472.3 1698.1 474.4 1703.4 C476.5 1708.7 479.4 1713.5 483.4 1718.5 C487.4 1723.5 492.2 1728.4 498.5 1733.6 C504.8 1738.8 513.8 1745.5 521.1 1749.6 C528.4 1753.7 535.2 1756.0 542.2 1758.0 C549.2 1760.0 556.3 1760.8 563.3 1761.6 C570.3 1762.4 577.4 1762.9 584.4 1762.7 C591.4 1762.5 598.5 1760.9 605.5 1760.5 C612.5 1760.1 619.6 1759.8 626.6 1760.1 C633.6 1760.4 640.7 1761.1 647.7 1762.2 C654.7 1763.3 661.8 1764.4 668.8 1766.5 C675.8 1768.6 682.9 1771.9 689.9 1774.9 C696.9 1777.9 704.0 1781.1 711.0 1784.4 C718.0 1787.7 725.1 1791.2 732.1 1794.9 C739.1 1798.6 746.2 1802.6 753.2 1806.5 C760.2 1810.4 767.3 1814.4 774.3 1818.1 C781.3 1821.8 788.4 1825.5 795.4 1828.7 C802.4 1831.9 810.4 1835.2 816.5 1837.1 C822.6 1839.0 829.4 1839.8 832.0 1840.3" fill="none" stroke="#3b3b3b" stroke-width="8.2" stroke-linecap="butt" stroke-linejoin="round"/>
<path d="M425.0 1004.0 C423.6 1005.3 423.1 1004.6 416.7 1011.7 C410.3 1018.8 395.6 1035.3 386.7 1046.7 C377.8 1058.1 367.5 1071.1 363.3 1080.0 C359.1 1088.9 360.9 1092.2 361.7 1100.0 C362.5 1107.8 366.9 1118.4 368.3 1126.7 C369.7 1135.0 367.5 1143.3 370.0 1150.0 C372.5 1156.7 383.9 1163.4 383.3 1166.7 C382.8 1170.0 374.5 1168.9 366.7 1170.0 C358.9 1171.1 345.0 1170.5 336.7 1173.3 C328.4 1176.1 321.7 1181.1 316.7 1186.7 C311.7 1192.3 309.5 1198.9 306.7 1206.7 C303.9 1214.5 302.2 1227.2 300.0 1233.3 C297.8 1239.4 297.2 1241.1 293.3 1243.3 C289.4 1245.5 282.2 1245.0 276.7 1246.7 C271.1 1248.4 265.0 1250.0 260.0 1253.3 C255.0 1256.6 250.3 1261.1 246.7 1266.7 C243.1 1272.3 240.2 1278.9 238.3 1286.7 C236.4 1294.5 235.3 1304.3 235.0 1313.3 C234.7 1322.3 235.7 1334.4 236.5 1340.8 C237.3 1347.2 238.9 1347.7 239.8 1351.7 C240.8 1355.7 240.4 1360.6 242.2 1365.0 C244.0 1369.4 247.8 1373.6 250.6 1378.2 C253.4 1382.8 256.7 1387.7 259.1 1392.7 C261.5 1397.7 263.5 1403.4 265.1 1408.4 C266.7 1413.4 267.5 1417.8 268.7 1422.8 C269.9 1427.8 271.1 1432.9 272.3 1438.5 C273.5 1444.1 274.7 1450.6 275.9 1456.6 C277.1 1462.6 278.2 1468.6 279.6 1474.7 C281.0 1480.8 283.0 1486.8 284.5 1493.0 C286.0 1499.2 287.2 1506.0 288.5 1512.0 C289.8 1518.0 290.5 1524.3 292.2 1529.0 C293.9 1533.7 296.1 1536.0 298.9 1539.9 C301.7 1543.8 305.8 1549.0 309.1 1552.5 C312.4 1556.0 315.4 1558.6 318.8 1561.0 C322.2 1563.4 326.2 1565.7 329.6 1567.0 C333.0 1568.3 335.1 1567.8 339.2 1568.8 C343.3 1569.8 349.3 1571.3 354.3 1573.0 C359.3 1574.7 362.9 1575.8 369.4 1579.0 C375.8 1582.2 385.3 1587.5 393.0 1591.9 C400.7 1596.3 408.1 1600.0 415.6 1605.5 C423.1 1611.0 431.9 1618.6 438.2 1625.1 C444.5 1631.6 448.8 1637.9 453.3 1644.7 C457.8 1651.5 462.5 1658.8 465.4 1665.8 C468.3 1672.8 469.1 1680.6 470.6 1686.9 C472.1 1693.2 472.3 1698.1 474.4 1703.4 C476.5 1708.7 479.4 1713.5 483.4 1718.5 C487.4 1723.5 492.2 1728.4 498.5 1733.6 C504.8 1738.8 513.8 1745.5 521.1 1749.6 C528.4 1753.7 535.2 1756.0 542.2 1758.0 C549.2 1760.0 556.3 1760.8 563.3 1761.6 C570.3 1762.4 577.4 1762.9 584.4 1762.7 C591.4 1762.5 598.5 1760.9 605.5 1760.5 C612.5 1760.1 619.6 1759.8 626.6 1760.1 C633.6 1760.4 640.7 1761.1 647.7 1762.2 C654.7 1763.3 661.8 1764.4 668.8 1766.5 C675.8 1768.6 682.9 1771.9 689.9 1774.9 C696.9 1777.9 704.0 1781.1 711.0 1784.4 C718.0 1787.7 725.1 1791.2 732.1 1794.9 C739.1 1798.6 746.2 1802.6 753.2 1806.5 C760.2 1810.4 767.3 1814.4 774.3 1818.1 C781.3 1821.8 788.4 1825.5 795.4 1828.7 C802.4 1831.9 810.4 1835.2 816.5 1837.1 C822.6 1839.0 829.4 1839.8 832.0 1840.3" fill="none" stroke="#ffffff" stroke-width="3.2" stroke-dasharray="7 5.6"/>
<g fill="none" stroke="#068690" stroke-width="7.6" stroke-linecap="round" stroke-linejoin="round">
<path d="M1304.2 415.6 C1302.8 419.0 1299.1 429.3 1296.1 436.0 C1293.1 442.7 1290.0 450.9 1286.2 456.0 C1282.4 461.1 1277.7 462.9 1273.5 466.8 C1269.3 470.7 1264.7 475.0 1260.8 479.5 C1256.9 484.0 1254.6 488.4 1250.0 493.9 C1245.4 499.4 1236.0 509.3 1233.2 512.4"/>
<path d="M1233.2 512.4 C1229.9 513.4 1223.3 515.1 1213.3 518.3 C1203.3 521.5 1185.5 527.0 1173.3 531.7 C1161.1 536.4 1151.1 540.9 1140.0 546.7 C1128.9 552.5 1115.8 560.3 1106.7 566.7 C1097.7 573.1 1091.8 578.9 1085.7 585.0 C1079.6 591.1 1076.0 596.9 1070.0 603.3 C1064.0 609.7 1056.1 618.3 1050.0 623.3 C1043.9 628.3 1040.0 632.5 1033.3 633.3 C1026.6 634.1 1018.3 629.7 1010.0 628.3 C1001.7 626.9 992.8 624.7 983.3 625.0 C973.8 625.3 962.7 627.0 953.3 630.0 C943.9 633.0 933.6 639.1 926.7 643.3 C919.8 647.5 920.0 648.9 911.7 655.0 C903.4 661.1 887.0 672.0 876.7 680.0 C866.4 688.0 855.8 697.2 850.0 703.3 C844.2 709.4 842.9 712.2 841.7 716.7 C840.5 721.2 844.1 725.8 842.7 730.0 C841.3 734.2 839.3 737.0 833.3 741.7 C827.3 746.4 814.5 753.6 806.7 758.3 C798.9 763.0 792.3 765.3 786.7 770.0 C781.1 774.7 776.4 779.5 773.3 786.7 C770.2 793.9 768.8 805.0 768.3 813.3 C767.8 821.6 772.3 830.7 770.0 836.7 C767.7 842.7 756.9 847.4 754.3 849.5"/>
<path d="M754.3 849.5 C747.5 852.1 720.1 862.4 713.3 865.0"/>
<path d="M713.3 865.0 C710.0 867.0 700.0 872.5 693.3 876.7 C686.6 880.9 678.3 885.8 673.3 890.0 C668.3 894.2 668.8 897.5 663.3 901.7 C657.8 905.9 647.2 910.3 640.0 915.0 C632.8 919.7 626.1 924.2 620.0 930.0 C613.9 935.8 608.0 943.9 603.3 950.0 C598.6 956.1 594.0 962.4 591.7 966.7 C589.4 971.0 595.7 973.8 589.3 975.7 C582.9 977.6 564.8 977.0 553.3 978.3 C541.8 979.6 529.4 981.6 520.0 983.3 C510.6 985.0 503.8 987.1 496.7 988.3 C489.6 989.5 480.5 990.3 477.3 990.7"/>
<path d="M477.3 990.7 C469.9 992.0 440.1 997.0 432.7 998.3"/>
</g>
<path d="M841 1263 L848 1258 Q858 1254 872 1254 Q886 1254 893 1259 Q899 1266 900 1276 Q899 1284 890 1285 L874 1284.5 Q862 1281 856 1274 Q849 1268 841 1263 Z" fill="#33b6cd"/>
<path d="M820 1278.5 L826 1283 Q834 1281 840 1283 Q848 1288 851 1297 Q853 1306 849 1313 Q845 1322 836 1325 Q828 1322 822 1318 L806 1316 Q799 1314 800.5 1311 Q804 1303 807.5 1298 Q811 1290 814 1286 Z" fill="#33b6cd"/>
<path d="M1241.7 788.3 L1241.7 816.7" stroke="#9a9a9a" stroke-width="1.1"/>
<path d="M1242.2 791.2 Q1254.5 788.7 1267.3 791.7 L1267.3 805.0 Q1254.5 802.5 1242.2 805.5 Z" fill="#e0222b"/>
<path d="M977.7 1232.7 L977.7 1260.0" stroke="#9a9a9a" stroke-width="1.1"/>
<path d="M978.2 1234.8 Q990.2 1232.3 1002.7 1235.3 L1002.7 1248.3 Q990.2 1245.8 978.2 1248.8 Z" fill="#e0222b"/>
<use href="#mtn" x="875.7" y="252.2"/><use href="#mtnf" x="875.7" y="252.2"/>
<use href="#mtn" x="710.7" y="373.3"/><use href="#mtnf" x="710.7" y="373.3"/>
<use href="#mtn" x="1496.7" y="283.3"/><use href="#mtnf" x="1496.7" y="283.3"/>
<use href="#mtn" x="1667.0" y="230.7"/><use href="#mtnf" x="1667.0" y="230.7"/>
<use href="#mtn" x="1452.0" y="516.0"/><use href="#mtnf" x="1452.0" y="516.0"/>
<use href="#mtn" x="1608.0" y="572.7"/><use href="#mtnf" x="1608.0" y="572.7"/>
<use href="#mtn" x="1130.0" y="659.3"/><use href="#mtnf" x="1130.0" y="659.3"/>
<use href="#mtn" x="910.7" y="1065.0"/><use href="#mtnf" x="910.7" y="1065.0"/>
<use href="#monastery" x="1128" y="390"/>
<g fill="#2a7b73">
<path d="M852.6 1655.5 Q852.6 1648.5 857 1648.5 Q861.3 1648.5 861.3 1655.5" fill="none" stroke="#2a7b73" stroke-width="2"/>
<rect x="852.3" y="1657.3" width="9.0" height="2.3" rx="1"/>
<rect x="853.8" y="1661.9" width="6.0" height="1.1" rx="1"/>
<rect x="851.5" y="1665.2" width="10.2" height="1.6" rx="1"/>
<rect x="850.0" y="1669.4" width="13.6" height="2.3" rx="1"/>
<rect x="848.5" y="1674.3" width="16.2" height="2.6" rx="1"/>
<rect x="848.1" y="1678.8" width="17.7" height="2.3" rx="1"/>
<rect x="848.1" y="1683.7" width="17.7" height="1.9" rx="1"/>
<rect x="844.7" y="1688.2" width="24.5" height="2.3" rx="1"/>
<rect x="848.1" y="1693.1" width="17.4" height="3.4" rx="1"/>
<path d="M807.8 1742.5 Q809 1712 830 1702 Q840 1698.8 857 1698.8 Q874 1698.8 884 1702 Q905 1712 906.2 1742.5 Z"/>
<rect x="803.7" y="1745" width="33.5" height="2.2"/><rect x="803.7" y="1749.6" width="33.5" height="3.4"/><rect x="801" y="1755.3" width="36.2" height="6.4" rx="1"/>
<rect x="876.4" y="1745" width="33.6" height="2.2"/><rect x="876.4" y="1749.6" width="33.6" height="3.4"/><rect x="876.4" y="1755.3" width="36.2" height="6.4" rx="1"/>
</g>
<g stroke="#f2fdfc" stroke-width="1.6" fill="#2a7b73" stroke-linejoin="round">
<path d="M850.2 1722.3 L856.8 1709.8 L863.4 1722.3 Z"/>
<rect x="849" y="1722.8" width="15.6" height="2.6"/>
<rect x="847.2" y="1726.2" width="19.2" height="2.8"/>
<rect x="846.4" y="1729.8" width="20.8" height="3.2"/>
<rect x="846" y="1733.4" width="21.6" height="28.6"/>
</g>
<rect x="851" y="1737.8" width="11.6" height="13.2" fill="#ffffff" stroke="#2a7b73" stroke-width="1.2"/>
<rect x="846.8" y="1754.6" width="20" height="7.2" fill="#2a7b73"/>
<path d="M840.3 1746 L840.3 1762 M873 1746 L873 1762" stroke="#2a7b73" stroke-width="1.4"/>
<use href="#bus" transform="translate(719.5 1767.0) rotate(24.5) scale(1.020 1.020)"/>
<use href="#bus" transform="translate(388.6 1021.5) rotate(-50.0) scale(0.980 0.980)"/>
<use href="#bus" transform="translate(346.3 1120.5) rotate(90.0) scale(1.020 -1.020)"/>
<use href="#bus" transform="translate(227.5 1261.0) rotate(-57.0) scale(1.020 1.020)"/>
<circle cx="1539.0" cy="390.7" r="7.3" fill="#0e3556"/>
<circle cx="1085.7" cy="585.0" r="7.3" fill="#0e3556"/>
<circle cx="1241.0" cy="617.3" r="7.3" fill="#0e3556"/>
<circle cx="911.7" cy="655.0" r="7.3" fill="#0e3556"/>
<circle cx="806.7" cy="758.3" r="7.3" fill="#0e3556"/>
<circle cx="1261.0" cy="690.0" r="7.3" fill="#0e3556"/>
<circle cx="1256.7" cy="871.7" r="7.3" fill="#0e3556"/>
<circle cx="589.3" cy="975.7" r="7.3" fill="#0e3556"/>
<circle cx="1283.3" cy="998.3" r="7.3" fill="#0e3556"/>
<circle cx="563.3" cy="1061.5" r="7.3" fill="#0e3556"/>
<circle cx="581.2" cy="1134.2" r="7.3" fill="#0e3556"/>
<circle cx="1276.7" cy="1139.3" r="7.3" fill="#0e3556"/>
<circle cx="384.3" cy="1170.0" r="7.3" fill="#0e3556"/>
<circle cx="625.0" cy="1216.7" r="7.3" fill="#0e3556"/>
<circle cx="856.7" cy="1242.7" r="7.3" fill="#0e3556"/>
<circle cx="726.7" cy="1256.0" r="7.3" fill="#0e3556"/>
<circle cx="1473.0" cy="1238.3" r="7.3" fill="#0e3556"/>
<circle cx="1259.0" cy="1252.7" r="7.3" fill="#0e3556"/>
<circle cx="1099.0" cy="1272.7" r="7.3" fill="#0e3556"/>
<circle cx="1191.7" cy="1304.3" r="7.3" fill="#0e3556"/>
<circle cx="236.5" cy="1340.8" r="7.3" fill="#0e3556"/>
<circle cx="1163.3" cy="1402.3" r="7.3" fill="#0e3556"/>
<circle cx="1099.6" cy="1459.7" r="7.3" fill="#0e3556"/>
<circle cx="1058.4" cy="1515.0" r="7.3" fill="#0e3556"/>
<circle cx="1462.4" cy="1574.3" r="7.3" fill="#0e3556"/>
<circle cx="1096.0" cy="1659.7" r="7.3" fill="#0e3556"/>
<circle cx="1233.2" cy="512.4" r="21.5" fill="#05766f" stroke="#ffffff" stroke-width="3"/>
<text x="1233.2" y="523.4" text-anchor="middle" font-family="Liberation Sans" font-weight="bold" font-size="31" fill="#ffffff">2</text>
<circle cx="754.3" cy="849.5" r="21.5" fill="#05766f" stroke="#ffffff" stroke-width="3"/>
<text x="754.3" y="860.5" text-anchor="middle" font-family="Liberation Sans" font-weight="bold" font-size="31" fill="#ffffff">3</text>
<circle cx="713.3" cy="865.0" r="21.5" fill="#05766f" stroke="#ffffff" stroke-width="3"/>
<path d="M711.5 855 L716.3 855 L716.3 877.9 L711.5 877.9 L711.5 862.3 L707.9 862.3 L707.9 858.8 Q710.5 858 711.5 855 Z" fill="#ffffff"/>
<circle cx="854.0" cy="1839.3" r="21.5" fill="#05766f" stroke="#ffffff" stroke-width="3"/>
<text x="854.0" y="1850.3" text-anchor="middle" font-family="Liberation Sans" font-weight="bold" font-size="31" fill="#ffffff">4</text>
<circle cx="1304.2" cy="415.6" r="19.0" fill="#ffffff" stroke="#1c7f78" stroke-width="2.4"/>
<text x="1304.2" y="426.1" text-anchor="middle" font-family="Liberation Sans" font-weight="bold" font-size="30" fill="#1c7f78">3</text>
<circle cx="477.3" cy="990.7" r="19.0" fill="#ffffff" stroke="#1c7f78" stroke-width="2.4"/>
<text x="477.3" y="1001.2" text-anchor="middle" font-family="Liberation Sans" font-weight="bold" font-size="30" fill="#1c7f78">4</text>
<circle cx="432.7" cy="998.3" r="19.0" fill="#ffffff" stroke="#1c7f78" stroke-width="2.4"/>
<path d="M431.7 989 L436.2 989 L436.2 1008.9 L431.7 1008.9 L431.7 994.4 L428 994.4 L428 991.2 Q430.8 990.6 431.7 989 Z" fill="#1c7f78"/>
<text x="813.51" y="321.70" font-family="Liberation Sans" font-weight="normal" font-size="24.11" fill="#0e3555" stroke="#0e3555" stroke-width="0.42" stroke-linejoin="round" textLength="211.47" lengthAdjust="spacingAndGlyphs" >Langtang Lirung</text>
<text x="876.06" y="346.00" font-family="Liberation Sans" font-weight="normal" font-size="24.11" fill="#0e3555" stroke="#0e3555" stroke-width="0.42" stroke-linejoin="round" textLength="86.29" lengthAdjust="spacingAndGlyphs" >7234m</text>
<text x="681.82" y="441.70" font-family="Liberation Sans" font-weight="normal" font-size="24.11" fill="#0e3555" stroke="#0e3555" stroke-width="0.42" stroke-linejoin="round" textLength="145.65" lengthAdjust="spacingAndGlyphs" >Langtang II</text>
<text x="711.48" y="466.00" font-family="Liberation Sans" font-weight="normal" font-size="24.11" fill="#0e3555" stroke="#0e3555" stroke-width="0.42" stroke-linejoin="round" textLength="86.17" lengthAdjust="spacingAndGlyphs" >6596m</text>
<text x="1053.62" y="474.00" font-family="Liberation Sans" font-weight="normal" font-size="24.11" fill="#0e3555" stroke="#0e3555" stroke-width="0.42" stroke-linejoin="round" textLength="191.17" lengthAdjust="spacingAndGlyphs" >Kyanjin Gumba</text>
<text x="1105.80" y="498.30" font-family="Liberation Sans" font-weight="normal" font-size="24.11" fill="#0e3555" stroke="#0e3555" stroke-width="0.42" stroke-linejoin="round" textLength="89.21" lengthAdjust="spacingAndGlyphs" >3880m</text>
<text x="1247.21" y="365.00" font-family="Liberation Sans" font-weight="normal" font-size="24.11" fill="#0e3555" stroke="#0e3555" stroke-width="0.42" stroke-linejoin="round" textLength="126.17" lengthAdjust="spacingAndGlyphs" >Kyanjin Ri</text>
<text x="1268.57" y="389.30" font-family="Liberation Sans" font-weight="normal" font-size="24.11" fill="#0e3555" stroke="#0e3555" stroke-width="0.42" stroke-linejoin="round" textLength="84.74" lengthAdjust="spacingAndGlyphs" >4773m</text>
<text x="1485.31" y="350.00" font-family="Liberation Sans" font-weight="normal" font-size="24.11" fill="#0e3555" stroke="#0e3555" stroke-width="0.42" stroke-linejoin="round" textLength="116.29" lengthAdjust="spacingAndGlyphs" >Tsergo Ri</text>
<text x="1499.07" y="374.30" font-family="Liberation Sans" font-weight="normal" font-size="24.11" fill="#0e3555" stroke="#0e3555" stroke-width="0.42" stroke-linejoin="round" textLength="86.89" lengthAdjust="spacingAndGlyphs" >5030m</text>
<text x="1650.64" y="299.30" font-family="Liberation Sans" font-weight="normal" font-size="24.11" fill="#0e3555" stroke="#0e3555" stroke-width="0.42" stroke-linejoin="round" textLength="117.81" lengthAdjust="spacingAndGlyphs" >Yala Peak</text>
<text x="1666.06" y="324.00" font-family="Liberation Sans" font-weight="normal" font-size="24.11" fill="#0e3555" stroke="#0e3555" stroke-width="0.42" stroke-linejoin="round" textLength="87.62" lengthAdjust="spacingAndGlyphs" >5500m</text>
<text x="986.08" y="562.70" font-family="Liberation Sans" font-weight="normal" font-size="24.11" fill="#0e3555" stroke="#0e3555" stroke-width="0.42" stroke-linejoin="round" textLength="90.68" lengthAdjust="spacingAndGlyphs" >Mundu</text>
<text x="989.15" y="586.70" font-family="Liberation Sans" font-weight="normal" font-size="24.11" fill="#0e3555" stroke="#0e3555" stroke-width="0.42" stroke-linejoin="round" textLength="85.18" lengthAdjust="spacingAndGlyphs" >3543m</text>
<text x="1252.85" y="623.30" font-family="Liberation Sans" font-weight="normal" font-size="24.11" fill="#0e3555" stroke="#0e3555" stroke-width="0.42" stroke-linejoin="round" textLength="132.79" lengthAdjust="spacingAndGlyphs" >Negegang</text>
<text x="1406.77" y="586.00" font-family="Liberation Sans" font-weight="normal" font-size="24.11" fill="#0e3555" stroke="#0e3555" stroke-width="0.42" stroke-linejoin="round" textLength="179.52" lengthAdjust="spacingAndGlyphs" >Gangchengpo</text>
<text x="1452.44" y="610.00" font-family="Liberation Sans" font-weight="normal" font-size="24.11" fill="#0e3555" stroke="#0e3555" stroke-width="0.42" stroke-linejoin="round" textLength="88.56" lengthAdjust="spacingAndGlyphs" >6380m</text>
<text x="1573.21" y="641.70" font-family="Liberation Sans" font-weight="normal" font-size="24.11" fill="#0e3555" stroke="#0e3555" stroke-width="0.42" stroke-linejoin="round" textLength="150.88" lengthAdjust="spacingAndGlyphs" >Dorje Lakpa</text>
<text x="1606.46" y="666.00" font-family="Liberation Sans" font-weight="normal" font-size="24.11" fill="#0e3555" stroke="#0e3555" stroke-width="0.42" stroke-linejoin="round" textLength="87.21" lengthAdjust="spacingAndGlyphs" >6966m</text>
<text x="1273.83" y="698.30" font-family="Liberation Sans" font-weight="normal" font-size="24.11" fill="#0e3555" stroke="#0e3555" stroke-width="0.42" stroke-linejoin="round" textLength="188.80" lengthAdjust="spacingAndGlyphs" >Ganja La Phedi</text>
<text x="729.54" y="630.70" font-family="Liberation Sans" font-weight="normal" font-size="24.11" fill="#0e3555" stroke="#0e3555" stroke-width="0.42" stroke-linejoin="round" textLength="215.54" lengthAdjust="spacingAndGlyphs" >Langtang Village</text>
<text x="794.13" y="654.00" font-family="Liberation Sans" font-weight="normal" font-size="24.11" fill="#0e3555" stroke="#0e3555" stroke-width="0.42" stroke-linejoin="round" textLength="86.83" lengthAdjust="spacingAndGlyphs" >3430m</text>
<text x="667.10" y="732.30" font-family="Liberation Sans" font-weight="normal" font-size="24.11" fill="#0e3555" stroke="#0e3555" stroke-width="0.42" stroke-linejoin="round" textLength="160.39" lengthAdjust="spacingAndGlyphs" >Ghodatabela</text>
<text x="704.83" y="756.00" font-family="Liberation Sans" font-weight="normal" font-size="24.11" fill="#0e3555" stroke="#0e3555" stroke-width="0.42" stroke-linejoin="round" textLength="86.83" lengthAdjust="spacingAndGlyphs" >3030m</text>
<text x="575.17" y="825.70" font-family="Liberation Sans" font-weight="normal" font-size="24.11" fill="#0e3555" stroke="#0e3555" stroke-width="0.42" stroke-linejoin="round" textLength="145.83" lengthAdjust="spacingAndGlyphs" >Lama Hotel</text>
<text x="604.48" y="849.30" font-family="Liberation Sans" font-weight="normal" font-size="24.11" fill="#0e3555" stroke="#0e3555" stroke-width="0.42" stroke-linejoin="round" textLength="87.19" lengthAdjust="spacingAndGlyphs" >2450m</text>
<text x="1099.54" y="728.30" font-family="Liberation Sans" font-weight="normal" font-size="24.11" fill="#0e3555" stroke="#0e3555" stroke-width="0.42" stroke-linejoin="round" textLength="141.91" lengthAdjust="spacingAndGlyphs" >Ganja Peak</text>
<text x="1125.73" y="752.70" font-family="Liberation Sans" font-weight="normal" font-size="24.11" fill="#0e3555" stroke="#0e3555" stroke-width="0.42" stroke-linejoin="round" textLength="90.31" lengthAdjust="spacingAndGlyphs" >5844m</text>
<text x="1272.19" y="805.00" font-family="Liberation Sans" font-weight="normal" font-size="24.11" fill="#0e3555" stroke="#0e3555" stroke-width="0.42" stroke-linejoin="round" textLength="171.84" lengthAdjust="spacingAndGlyphs" >Ganja La Pass</text>
<text x="1318.47" y="829.30" font-family="Liberation Sans" font-weight="normal" font-size="24.11" fill="#0e3555" stroke="#0e3555" stroke-width="0.42" stroke-linejoin="round" textLength="79.74" lengthAdjust="spacingAndGlyphs" >5130m</text>
<text x="1140.55" y="872.30" font-family="Liberation Sans" font-weight="normal" font-size="24.11" fill="#0e3555" stroke="#0e3555" stroke-width="0.42" stroke-linejoin="round" textLength="105.39" lengthAdjust="spacingAndGlyphs" >Keldang</text>
<text x="1150.56" y="896.00" font-family="Liberation Sans" font-weight="normal" font-size="24.11" fill="#0e3555" stroke="#0e3555" stroke-width="0.42" stroke-linejoin="round" textLength="86.08" lengthAdjust="spacingAndGlyphs" >4270m</text>
<text x="357.93" y="942.30" font-family="Liberation Sans" font-weight="normal" font-size="24.11" fill="#0e3555" stroke="#0e3555" stroke-width="0.42" stroke-linejoin="round" textLength="153.69" lengthAdjust="spacingAndGlyphs" >Sherpagaon</text>
<text x="392.13" y="965.70" font-family="Liberation Sans" font-weight="normal" font-size="24.11" fill="#0e3555" stroke="#0e3555" stroke-width="0.42" stroke-linejoin="round" textLength="83.76" lengthAdjust="spacingAndGlyphs" >2563m</text>
<text x="608.84" y="983.30" font-family="Liberation Sans" font-weight="normal" font-size="24.11" fill="#0e3555" stroke="#0e3555" stroke-width="0.42" stroke-linejoin="round" textLength="97.93" lengthAdjust="spacingAndGlyphs" >Rimche</text>
<text x="614.48" y="1007.30" font-family="Liberation Sans" font-weight="normal" font-size="24.11" fill="#0e3555" stroke="#0e3555" stroke-width="0.42" stroke-linejoin="round" textLength="87.19" lengthAdjust="spacingAndGlyphs" >2485m</text>
<text x="1291.05" y="1003.30" font-family="Liberation Sans" font-weight="normal" font-size="24.11" fill="#0e3555" stroke="#0e3555" stroke-width="0.42" stroke-linejoin="round" textLength="86.73" lengthAdjust="spacingAndGlyphs" >Dukpu</text>
<text x="1289.52" y="1027.30" font-family="Liberation Sans" font-weight="normal" font-size="24.11" fill="#0e3555" stroke="#0e3555" stroke-width="0.42" stroke-linejoin="round" textLength="91.54" lengthAdjust="spacingAndGlyphs" >4040m</text>
<text x="440.54" y="1065.00" font-family="Liberation Sans" font-weight="normal" font-size="24.11" fill="#0e3555" stroke="#0e3555" stroke-width="0.42" stroke-linejoin="round" textLength="107.77" lengthAdjust="spacingAndGlyphs" >Bamboo</text>
<text x="453.15" y="1088.30" font-family="Liberation Sans" font-weight="normal" font-size="24.11" fill="#0e3555" stroke="#0e3555" stroke-width="0.42" stroke-linejoin="round" textLength="82.72" lengthAdjust="spacingAndGlyphs" >1960m</text>
<text x="115.79" y="1085.00" font-family="Liberation Sans" font-weight="normal" font-size="24.11" fill="#0e3555" stroke="#0e3555" stroke-width="0.42" stroke-linejoin="round" textLength="85.86" lengthAdjust="spacingAndGlyphs" >Way to</text>
<text x="47.87" y="1110.00" font-family="Liberation Sans" font-weight="normal" font-size="24.11" fill="#0e3555" stroke="#0e3555" stroke-width="0.42" stroke-linejoin="round" textLength="219.88" lengthAdjust="spacingAndGlyphs" >Tamang Heritage</text>
<text x="133.07" y="1134.00" font-family="Liberation Sans" font-weight="normal" font-size="24.11" fill="#0e3555" stroke="#0e3555" stroke-width="0.42" stroke-linejoin="round" textLength="48.98" lengthAdjust="spacingAndGlyphs" >trek</text>
<text x="567.89" y="1114.00" font-family="Liberation Sans" font-weight="normal" font-size="24.11" fill="#0e3555" stroke="#0e3555" stroke-width="0.42" stroke-linejoin="round" textLength="163.02" lengthAdjust="spacingAndGlyphs" >Thulo Syabru</text>
<text x="604.48" y="1138.30" font-family="Liberation Sans" font-weight="normal" font-size="24.11" fill="#0e3555" stroke="#0e3555" stroke-width="0.42" stroke-linejoin="round" textLength="87.19" lengthAdjust="spacingAndGlyphs" >2200m</text>
<text x="883.99" y="1132.30" font-family="Liberation Sans" font-weight="normal" font-size="24.11" fill="#0e3555" stroke="#0e3555" stroke-width="0.42" stroke-linejoin="round" textLength="139.06" lengthAdjust="spacingAndGlyphs" >Surya Peak</text>
<text x="913.15" y="1156.00" font-family="Liberation Sans" font-weight="normal" font-size="24.11" fill="#0e3555" stroke="#0e3555" stroke-width="0.42" stroke-linejoin="round" textLength="80.68" lengthAdjust="spacingAndGlyphs" >5145m</text>
<text x="1107.90" y="1134.30" font-family="Liberation Sans" font-weight="normal" font-size="24.11" fill="#0e3555" stroke="#0e3555" stroke-width="0.42" stroke-linejoin="round" textLength="156.33" lengthAdjust="spacingAndGlyphs" >Tarke Gyang</text>
<text x="1142.08" y="1158.30" font-family="Liberation Sans" font-weight="normal" font-size="24.11" fill="#0e3555" stroke="#0e3555" stroke-width="0.42" stroke-linejoin="round" textLength="86.88" lengthAdjust="spacingAndGlyphs" >2740m</text>
<text x="347.25" y="1206.70" font-family="Liberation Sans" font-weight="normal" font-size="24.11" fill="#0e3555" stroke="#0e3555" stroke-width="0.42" stroke-linejoin="round" textLength="138.71" lengthAdjust="spacingAndGlyphs" >Syabrubesi</text>
<text x="374.11" y="1230.00" font-family="Liberation Sans" font-weight="normal" font-size="24.11" fill="#0e3555" stroke="#0e3555" stroke-width="0.42" stroke-linejoin="round" textLength="84.19" lengthAdjust="spacingAndGlyphs" >1400m</text>
<text x="617.96" y="1198.30" font-family="Liberation Sans" font-weight="normal" font-size="24.11" fill="#0e3555" stroke="#0e3555" stroke-width="0.42" stroke-linejoin="round" textLength="153.53" lengthAdjust="spacingAndGlyphs" >Sing Gompa</text>
<text x="653.15" y="1222.70" font-family="Liberation Sans" font-weight="normal" font-size="24.11" fill="#0e3555" stroke="#0e3555" stroke-width="0.42" stroke-linejoin="round" textLength="85.18" lengthAdjust="spacingAndGlyphs" >3330m</text>
<text x="792.82" y="1201.70" font-family="Liberation Sans" font-weight="normal" font-size="24.11" fill="#0e3555" stroke="#0e3555" stroke-width="0.42" stroke-linejoin="round" textLength="147.97" lengthAdjust="spacingAndGlyphs" >Gosaikunda</text>
<text x="824.56" y="1226.00" font-family="Liberation Sans" font-weight="normal" font-size="24.11" fill="#0e3555" stroke="#0e3555" stroke-width="0.42" stroke-linejoin="round" textLength="87.11" lengthAdjust="spacingAndGlyphs" >4360m</text>
<text x="957.25" y="1215.70" font-family="Liberation Sans" font-weight="normal" font-size="24.11" fill="#0e3555" stroke="#0e3555" stroke-width="0.42" stroke-linejoin="round" textLength="191.84" lengthAdjust="spacingAndGlyphs" >Laurebina Pass</text>
<text x="1012.89" y="1240.00" font-family="Liberation Sans" font-weight="normal" font-size="24.11" fill="#0e3555" stroke="#0e3555" stroke-width="0.42" stroke-linejoin="round" textLength="82.68" lengthAdjust="spacingAndGlyphs" >4610m</text>
<text x="1516.62" y="1214.00" font-family="Liberation Sans" font-weight="normal" font-size="24.11" fill="#0e3555" stroke="#0e3555" stroke-width="0.42" stroke-linejoin="round" textLength="154.70" lengthAdjust="spacingAndGlyphs" >Sermathang</text>
<text x="1550.80" y="1237.30" font-family="Liberation Sans" font-weight="normal" font-size="24.11" fill="#0e3555" stroke="#0e3555" stroke-width="0.42" stroke-linejoin="round" textLength="85.53" lengthAdjust="spacingAndGlyphs" >2590m</text>
<text x="1267.83" y="1261.00" font-family="Liberation Sans" font-weight="normal" font-size="24.11" fill="#0e3555" stroke="#0e3555" stroke-width="0.42" stroke-linejoin="round" textLength="188.85" lengthAdjust="spacingAndGlyphs" >Melamchigaon</text>
<text x="1318.78" y="1285.00" font-family="Liberation Sans" font-weight="normal" font-size="24.11" fill="#0e3555" stroke="#0e3555" stroke-width="0.42" stroke-linejoin="round" textLength="87.19" lengthAdjust="spacingAndGlyphs" >2560m</text>
<text x="667.89" y="1287.30" font-family="Liberation Sans" font-weight="normal" font-size="24.11" fill="#0e3555" stroke="#0e3555" stroke-width="0.42" stroke-linejoin="round" textLength="125.90" lengthAdjust="spacingAndGlyphs" >Laurebina</text>
<text x="687.40" y="1311.00" font-family="Liberation Sans" font-weight="normal" font-size="24.11" fill="#0e3555" stroke="#0e3555" stroke-width="0.42" stroke-linejoin="round" textLength="89.32" lengthAdjust="spacingAndGlyphs" >3900m</text>
<text x="1041.49" y="1306.70" font-family="Liberation Sans" font-weight="normal" font-size="24.11" fill="#0e3555" stroke="#0e3555" stroke-width="0.42" stroke-linejoin="round" textLength="92.86" lengthAdjust="spacingAndGlyphs" >Ghopte</text>
<text x="1043.08" y="1331.00" font-family="Liberation Sans" font-weight="normal" font-size="24.11" fill="#0e3555" stroke="#0e3555" stroke-width="0.42" stroke-linejoin="round" textLength="90.35" lengthAdjust="spacingAndGlyphs" >3440m</text>
<text x="1202.87" y="1329.00" font-family="Liberation Sans" font-weight="normal" font-size="24.11" fill="#0e3555" stroke="#0e3555" stroke-width="0.42" stroke-linejoin="round" textLength="119.83" lengthAdjust="spacingAndGlyphs" >Tharepati</text>
<text x="1218.12" y="1353.30" font-family="Liberation Sans" font-weight="normal" font-size="24.11" fill="#0e3555" stroke="#0e3555" stroke-width="0.42" stroke-linejoin="round" textLength="87.56" lengthAdjust="spacingAndGlyphs" >3500m</text>
<text x="110.54" y="1335.70" font-family="Liberation Sans" font-weight="normal" font-size="24.11" fill="#0e3555" stroke="#0e3555" stroke-width="0.42" stroke-linejoin="round" textLength="115.53" lengthAdjust="spacingAndGlyphs" >Dhunche</text>
<text x="128.19" y="1359.30" font-family="Liberation Sans" font-weight="normal" font-size="24.11" fill="#0e3555" stroke="#0e3555" stroke-width="0.42" stroke-linejoin="round" textLength="81.05" lengthAdjust="spacingAndGlyphs" >1950m</text>
<text x="793.88" y="1350.00" font-family="Liberation Sans" font-weight="normal" font-size="24.11" fill="#0e3555" stroke="#0e3555" stroke-width="0.42" stroke-linejoin="round" textLength="98.11" lengthAdjust="spacingAndGlyphs" >Bhairab</text>
<text x="808.52" y="1374.00" font-family="Liberation Sans" font-weight="normal" font-size="24.11" fill="#0e3555" stroke="#0e3555" stroke-width="0.42" stroke-linejoin="round" textLength="68.15" lengthAdjust="spacingAndGlyphs" >Kund</text>
<text x="1174.50" y="1418.30" font-family="Liberation Sans" font-weight="normal" font-size="24.11" fill="#0e3555" stroke="#0e3555" stroke-width="0.42" stroke-linejoin="round" textLength="148.89" lengthAdjust="spacingAndGlyphs" >Kutumsang</text>
<text x="1205.48" y="1441.70" font-family="Liberation Sans" font-weight="normal" font-size="24.11" fill="#0e3555" stroke="#0e3555" stroke-width="0.42" stroke-linejoin="round" textLength="86.88" lengthAdjust="spacingAndGlyphs" >2500m</text>
<text x="924.79" y="1439.80" font-family="Liberation Sans" font-weight="normal" font-size="24.11" fill="#0e3555" stroke="#0e3555" stroke-width="0.42" stroke-linejoin="round" textLength="185.83" lengthAdjust="spacingAndGlyphs" >Gul Bhanjyang</text>
<text x="979.23" y="1464.00" font-family="Liberation Sans" font-weight="normal" font-size="24.11" fill="#0e3555" stroke="#0e3555" stroke-width="0.42" stroke-linejoin="round" textLength="77.73" lengthAdjust="spacingAndGlyphs" >2125m</text>
<text x="1069.78" y="1531.00" font-family="Liberation Sans" font-weight="normal" font-size="24.11" fill="#0e3555" stroke="#0e3555" stroke-width="0.42" stroke-linejoin="round" textLength="124.90" lengthAdjust="spacingAndGlyphs" >Chisapani</text>
<text x="1090.56" y="1555.50" font-family="Liberation Sans" font-weight="normal" font-size="24.11" fill="#0e3555" stroke="#0e3555" stroke-width="0.42" stroke-linejoin="round" textLength="82.20" lengthAdjust="spacingAndGlyphs" >2100m</text>
<text x="1307.63" y="1551.90" font-family="Liberation Sans" font-weight="normal" font-size="24.11" fill="#0e3555" stroke="#0e3555" stroke-width="0.42" stroke-linejoin="round" textLength="173.79" lengthAdjust="spacingAndGlyphs" >Melemchi Pul</text>
<text x="1351.20" y="1576.10" font-family="Liberation Sans" font-weight="normal" font-size="24.11" fill="#0e3555" stroke="#0e3555" stroke-width="0.42" stroke-linejoin="round" textLength="85.34" lengthAdjust="spacingAndGlyphs" >Bazaar</text>
<text x="979.21" y="1634.40" font-family="Liberation Sans" font-weight="normal" font-size="24.11" fill="#0e3555" stroke="#0e3555" stroke-width="0.42" stroke-linejoin="round" textLength="127.50" lengthAdjust="spacingAndGlyphs" >Sundarijal</text>
<text x="1003.14" y="1658.60" font-family="Liberation Sans" font-weight="normal" font-size="24.11" fill="#0e3555" stroke="#0e3555" stroke-width="0.42" stroke-linejoin="round" textLength="79.16" lengthAdjust="spacingAndGlyphs" >1370m</text>
<text x="781.09" y="1786.70" font-family="Liberation Sans" font-weight="normal" font-size="24.11" fill="#0e3555" stroke="#0e3555" stroke-width="0.42" stroke-linejoin="round" textLength="150.65" lengthAdjust="spacingAndGlyphs" >Kathmandu</text>
<text x="813.07" y="1810.70" font-family="Liberation Sans" font-weight="normal" font-size="24.11" fill="#0e3555" stroke="#0e3555" stroke-width="0.42" stroke-linejoin="round" textLength="85.87" lengthAdjust="spacingAndGlyphs" >1400m</text>
<rect x="1559.2" y="1497.8" width="289.2" height="193.4" fill="#fff" stroke="#111" stroke-width="1.6"/>
<rect x="1568.3" y="1501.8" width="271.6" height="185.8" fill="#fbfbfb" stroke="#111" stroke-width="2"/>
<rect x="1589.5" y="1472.5" width="229.2" height="38.4" fill="#fff" stroke="#111" stroke-width="1.6"/>
<text x="1599.34" y="1498.80" font-family="Liberation Sans" font-weight="normal" font-size="21.51" fill="#0e3555" stroke="#0e3555" stroke-width="0.40" stroke-linejoin="round" textLength="207.25" lengthAdjust="spacingAndGlyphs" >Itinerary Highlight</text>
<circle cx="1598.6" cy="1536.7" r="14.3" fill="#05766f"/>
<path d="M1597.6 1529.7 L1601.4 1529.7 L1601.4 1543 L1597.6 1543 L1597.6 1535 L1594.6 1535 L1594.6 1532.2 Q1596.8 1531.6 1597.6 1529.7 Z" fill="#fff"/>
<circle cx="1598.6" cy="1572.0" r="14.3" fill="#05766f"/>
<text x="1598.6" y="1579.6" text-anchor="middle" font-family="Liberation Sans" font-weight="bold" font-size="21" fill="#fff">2</text>
<circle cx="1598.6" cy="1614.5" r="14.3" fill="#05766f"/>
<text x="1598.6" y="1622.1" text-anchor="middle" font-family="Liberation Sans" font-weight="bold" font-size="21" fill="#fff">3</text>
<circle cx="1598.6" cy="1664.4" r="14.3" fill="#05766f"/>
<text x="1598.6" y="1672.0" text-anchor="middle" font-family="Liberation Sans" font-weight="bold" font-size="21" fill="#fff">4</text>
<text x="1626.89" y="1544.20" font-family="Liberation Sans" font-weight="normal" font-size="22.97" fill="#0e3555" stroke="#0e3555" stroke-width="0.40" stroke-linejoin="round" textLength="137.81" lengthAdjust="spacingAndGlyphs" >Lama Hotel</text>
<text x="1627.90" y="1579.10" font-family="Liberation Sans" font-weight="normal" font-size="22.97" fill="#0e3555" stroke="#0e3555" stroke-width="0.40" stroke-linejoin="round" textLength="190.60" lengthAdjust="spacingAndGlyphs" >Kyanjim Gumba</text>
<text x="1627.89" y="1614.50" font-family="Liberation Sans" font-weight="normal" font-size="22.97" fill="#0e3555" stroke="#0e3555" stroke-width="0.40" stroke-linejoin="round" textLength="136.11" lengthAdjust="spacingAndGlyphs" >Kyanjim Ri/</text>
<text x="1627.99" y="1638.10" font-family="Liberation Sans" font-weight="normal" font-size="22.97" fill="#0e3555" stroke="#0e3555" stroke-width="0.40" stroke-linejoin="round" textLength="137.81" lengthAdjust="spacingAndGlyphs" >Lama Hotel</text>
<text x="1627.90" y="1672.60" font-family="Liberation Sans" font-weight="normal" font-size="22.97" fill="#0e3555" stroke="#0e3555" stroke-width="0.40" stroke-linejoin="round" textLength="143.57" lengthAdjust="spacingAndGlyphs" >Kathmandu</text>
<g stroke="#efefef" stroke-width="1.8">
<path d="M120 2039.3 L1827 2039.3"/>
<path d="M120 2101.7 L1827 2101.7"/>
<path d="M120 2164.0 L1827 2164.0"/>
<path d="M120 2225.0 L1827 2225.0"/>
<path d="M120 2284.8 L1827 2284.8"/>
<path d="M120 2349.0 L1827 2349.0"/>
</g>
<g stroke="#e9e9e9" stroke-width="1.6">
<path d="M460.5 1973.5 L460.5 2389"/>
<path d="M802.2 1973.5 L802.2 2389"/>
<path d="M1143.5 1973.5 L1143.5 2389"/>
<path d="M1485.0 1973.5 L1485.0 2389"/>
</g>
<path d="M118.3 2390.6 L118.3 1962.5 A33 33 0 0 1 151.3 1929.5 L1795.5 1929.5 A33 33 0 0 1 1828.5 1962.5 L1828.5 2390.6" fill="none" stroke="#111" stroke-width="2.4"/>
<path d="M117 2390.6 L1829.5 2390.6" stroke="#111" stroke-width="2.6"/>
<path d="M118.3 1960 L118.3 2391" stroke="#111" stroke-width="2.6"/>
<rect x="796.3" y="1899.1" width="307.7" height="57.3" rx="28.65" fill="#03858b"/>
<text x="824.87" y="1940.80" font-family="Liberation Sans" font-weight="normal" font-size="41.93" fill="#f3fefe" stroke="#f3fefe" stroke-width="0.90" stroke-linejoin="round" textLength="251.18" lengthAdjust="spacingAndGlyphs" >Altitude Chart</text>
<path d="M460.3 2258.3 L802.4 2187.5 L1143.2 2124.7 L1484.7 2322.9" fill="none" stroke="#03858b" stroke-width="5.4" stroke-linejoin="round"/>
<circle cx="460.3" cy="2258.3" r="6.6" fill="#000"/>
<circle cx="802.4" cy="2187.5" r="6.6" fill="#000"/>
<circle cx="1143.2" cy="2124.7" r="6.6" fill="#000"/>
<circle cx="1484.7" cy="2322.9" r="6.6" fill="#000"/>
<text x="419.22" y="2245.40" font-family="Liberation Sans" font-weight="normal" font-size="22.89" fill="#333333" stroke="#333333" stroke-width="0.50" stroke-linejoin="round" textLength="67.62" lengthAdjust="spacingAndGlyphs" >2450</text>
<text x="758.40" y="2174.50" font-family="Liberation Sans" font-weight="normal" font-size="22.89" fill="#333333" stroke="#333333" stroke-width="0.50" stroke-linejoin="round" textLength="66.92" lengthAdjust="spacingAndGlyphs" >3680</text>
<text x="1110.56" y="2110.40" font-family="Liberation Sans" font-weight="normal" font-size="22.89" fill="#333333" stroke="#333333" stroke-width="0.50" stroke-linejoin="round" textLength="67.22" lengthAdjust="spacingAndGlyphs" >4773</text>
<text x="1450.54" y="2305.40" font-family="Liberation Sans" font-weight="normal" font-size="22.89" fill="#333333" stroke="#333333" stroke-width="0.50" stroke-linejoin="round" textLength="67.60" lengthAdjust="spacingAndGlyphs" >1400</text>
<path d="M87.8 2332 L93.4 2332 L93.4 2356 L87.8 2356 L87.8 2341 L83.8 2341 L83.8 2337 Q87 2336.2 87.8 2332 Z" fill="#444444"/>
<text x="92.17" y="2356.00" font-family="Liberation Sans" font-weight="normal" font-size="33.87" fill="#444444" stroke="#444444" stroke-width="1.00" stroke-linejoin="round" textLength="21.77" lengthAdjust="spacingAndGlyphs" >k</text>
<text x="74.92" y="2048.60" font-family="Liberation Sans" font-weight="normal" font-size="33.87" fill="#444444" stroke="#444444" stroke-width="1.00" stroke-linejoin="round" textLength="39.02" lengthAdjust="spacingAndGlyphs" >6k</text>
<text x="75.34" y="2110.30" font-family="Liberation Sans" font-weight="normal" font-size="33.87" fill="#444444" stroke="#444444" stroke-width="1.00" stroke-linejoin="round" textLength="38.61" lengthAdjust="spacingAndGlyphs" >5k</text>
<text x="74.95" y="2172.00" font-family="Liberation Sans" font-weight="normal" font-size="33.87" fill="#444444" stroke="#444444" stroke-width="1.00" stroke-linejoin="round" textLength="38.99" lengthAdjust="spacingAndGlyphs" >4k</text>
<text x="75.83" y="2233.60" font-family="Liberation Sans" font-weight="normal" font-size="33.87" fill="#444444" stroke="#444444" stroke-width="1.00" stroke-linejoin="round" textLength="38.12" lengthAdjust="spacingAndGlyphs" >3k</text>
<text x="76.41" y="2294.70" font-family="Liberation Sans" font-weight="normal" font-size="33.87" fill="#444444" stroke="#444444" stroke-width="1.00" stroke-linejoin="round" textLength="37.54" lengthAdjust="spacingAndGlyphs" >2k</text>
<text transform="translate(63.4 2315.2) rotate(-90)" font-family="Liberation Sans" font-size="30.81" fill="#444444" stroke="#444444" stroke-width="0.6" textLength="225.8" lengthAdjust="spacingAndGlyphs">HEIGHT in Meters</text>
<text x="81.02" y="2435.00" font-family="Liberation Sans" font-weight="bold" font-size="32.41" fill="#444444" textLength="82.13" lengthAdjust="spacingAndGlyphs" >DAYS</text>
<path d="M460.2 2411.3 L464.8 2411.3 L464.8 2435.7 L460.2 2435.7 L460.2 2419.4 L454.6 2419.4 L454.6 2416.2 Q458.5 2415.5 460.2 2411.3 Z" fill="#444444"/>
<text x="800.6" y="2435.7" text-anchor="middle" font-family="Liberation Sans" font-weight="bold" font-size="35.14" fill="#444444">2</text>
<text x="1144.0" y="2435.7" text-anchor="middle" font-family="Liberation Sans" font-weight="bold" font-size="35.14" fill="#444444">3</text>
<text x="1485.0" y="2435.7" text-anchor="middle" font-family="Liberation Sans" font-weight="bold" font-size="35.14" fill="#444444">4</text>
</svg></body></html>
